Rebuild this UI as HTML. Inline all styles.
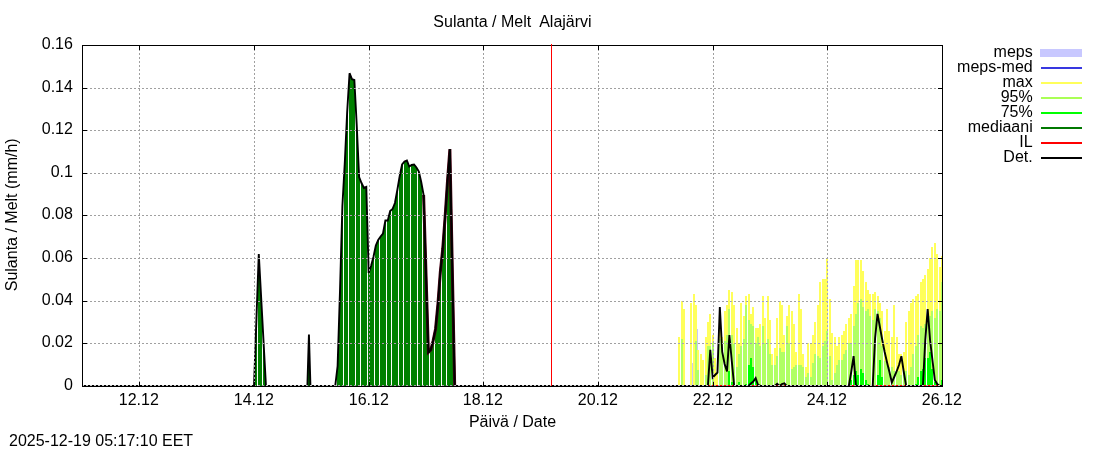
<!DOCTYPE html>
<html lang="fi"><head><meta charset="utf-8"><title>Sulanta / Melt Alajärvi</title>
<style>html,body{margin:0;padding:0;background:#fff;overflow:hidden}svg{display:block}text{font-family:"Liberation Sans",Arial,sans-serif;font-size:16px;fill:#000}</style>
</head><body>
<svg width="1100" height="450" viewBox="0 0 1100 450">
<rect width="1100" height="450" fill="#fff"/>
<g shape-rendering="crispEdges">
<rect x="254" y="372" width="1" height="14" fill="#008000"/>
<rect x="255" y="345" width="1" height="41" fill="#008000"/>
<rect x="256" y="317" width="1" height="69" fill="#008000"/>
<rect x="258" y="262" width="1" height="124" fill="#008000"/>
<rect x="259" y="267" width="1" height="119" fill="#008000"/>
<rect x="260" y="286" width="1" height="100" fill="#008000"/>
<rect x="261" y="304" width="1" height="82" fill="#008000"/>
<rect x="263" y="341" width="1" height="45" fill="#008000"/>
<rect x="264" y="359" width="1" height="27" fill="#008000"/>
<rect x="265" y="378" width="1" height="8" fill="#008000"/>
<rect x="307" y="382" width="1" height="4" fill="#008000"/>
<rect x="308" y="349" width="1" height="37" fill="#008000"/>
<rect x="309" y="354" width="1" height="32" fill="#008000"/>
<rect x="335" y="384" width="1" height="2" fill="#008000"/>
<rect x="337" y="367" width="1" height="19" fill="#008000"/>
<rect x="338" y="338" width="1" height="48" fill="#008000"/>
<rect x="339" y="307" width="1" height="79" fill="#008000"/>
<rect x="340" y="273" width="1" height="113" fill="#008000"/>
<rect x="341" y="238" width="1" height="148" fill="#008000"/>
<rect x="342" y="204" width="1" height="182" fill="#008000"/>
<rect x="344" y="168" width="1" height="218" fill="#008000"/>
<rect x="345" y="148" width="1" height="238" fill="#008000"/>
<rect x="346" y="126" width="1" height="260" fill="#008000"/>
<rect x="347" y="107" width="1" height="279" fill="#008000"/>
<rect x="349" y="74" width="1" height="312" fill="#008000"/>
<rect x="350" y="76" width="1" height="310" fill="#008000"/>
<rect x="351" y="78" width="1" height="308" fill="#008000"/>
<rect x="352" y="79" width="1" height="307" fill="#008000"/>
<rect x="353" y="80" width="1" height="306" fill="#008000"/>
<rect x="354" y="83" width="1" height="303" fill="#008000"/>
<rect x="356" y="121" width="1" height="265" fill="#008000"/>
<rect x="357" y="142" width="1" height="244" fill="#008000"/>
<rect x="358" y="164" width="1" height="222" fill="#008000"/>
<rect x="359" y="178" width="1" height="208" fill="#008000"/>
<rect x="361" y="183" width="1" height="203" fill="#008000"/>
<rect x="362" y="185" width="1" height="201" fill="#008000"/>
<rect x="363" y="187" width="1" height="199" fill="#008000"/>
<rect x="364" y="188" width="1" height="198" fill="#008000"/>
<rect x="365" y="187" width="1" height="199" fill="#008000"/>
<rect x="366" y="195" width="1" height="191" fill="#008000"/>
<rect x="368" y="267" width="1" height="119" fill="#008000"/>
<rect x="369" y="271" width="1" height="115" fill="#008000"/>
<rect x="370" y="268" width="1" height="118" fill="#008000"/>
<rect x="371" y="264" width="1" height="122" fill="#008000"/>
<rect x="372" y="261" width="1" height="125" fill="#008000"/>
<rect x="373" y="257" width="1" height="129" fill="#008000"/>
<rect x="375" y="247" width="1" height="139" fill="#008000"/>
<rect x="376" y="244" width="1" height="142" fill="#008000"/>
<rect x="377" y="242" width="1" height="144" fill="#008000"/>
<rect x="378" y="240" width="1" height="146" fill="#008000"/>
<rect x="380" y="237" width="1" height="149" fill="#008000"/>
<rect x="381" y="235" width="1" height="151" fill="#008000"/>
<rect x="382" y="234" width="1" height="152" fill="#008000"/>
<rect x="383" y="231" width="1" height="155" fill="#008000"/>
<rect x="384" y="225" width="1" height="161" fill="#008000"/>
<rect x="385" y="220" width="1" height="166" fill="#008000"/>
<rect x="387" y="220" width="1" height="166" fill="#008000"/>
<rect x="388" y="218" width="1" height="168" fill="#008000"/>
<rect x="389" y="214" width="1" height="172" fill="#008000"/>
<rect x="390" y="211" width="1" height="175" fill="#008000"/>
<rect x="392" y="209" width="1" height="177" fill="#008000"/>
<rect x="393" y="207" width="1" height="179" fill="#008000"/>
<rect x="394" y="204" width="1" height="182" fill="#008000"/>
<rect x="395" y="200" width="1" height="186" fill="#008000"/>
<rect x="396" y="195" width="1" height="191" fill="#008000"/>
<rect x="397" y="189" width="1" height="197" fill="#008000"/>
<rect x="399" y="177" width="1" height="209" fill="#008000"/>
<rect x="400" y="172" width="1" height="214" fill="#008000"/>
<rect x="401" y="167" width="1" height="219" fill="#008000"/>
<rect x="402" y="164" width="1" height="222" fill="#008000"/>
<rect x="404" y="162" width="1" height="224" fill="#008000"/>
<rect x="405" y="161" width="2" height="225" fill="#008000"/>
<rect x="407" y="162" width="1" height="224" fill="#008000"/>
<rect x="408" y="165" width="1" height="221" fill="#008000"/>
<rect x="409" y="166" width="1" height="220" fill="#008000"/>
<rect x="411" y="165" width="4" height="221" fill="#008000"/>
<rect x="415" y="166" width="1" height="220" fill="#008000"/>
<rect x="416" y="168" width="1" height="218" fill="#008000"/>
<rect x="418" y="171" width="1" height="215" fill="#008000"/>
<rect x="419" y="174" width="1" height="212" fill="#008000"/>
<rect x="420" y="179" width="1" height="207" fill="#008000"/>
<rect x="421" y="184" width="1" height="202" fill="#008000"/>
<rect x="423" y="194" width="1" height="192" fill="#008000"/>
<rect x="424" y="224" width="1" height="162" fill="#008000"/>
<rect x="425" y="257" width="1" height="129" fill="#008000"/>
<rect x="426" y="290" width="1" height="96" fill="#008000"/>
<rect x="427" y="323" width="1" height="63" fill="#008000"/>
<rect x="428" y="352" width="1" height="34" fill="#008000"/>
<rect x="430" y="350" width="1" height="36" fill="#008000"/>
<rect x="431" y="347" width="1" height="39" fill="#008000"/>
<rect x="432" y="343" width="1" height="43" fill="#008000"/>
<rect x="433" y="339" width="1" height="47" fill="#008000"/>
<rect x="435" y="329" width="1" height="57" fill="#008000"/>
<rect x="436" y="319" width="1" height="67" fill="#008000"/>
<rect x="437" y="309" width="1" height="77" fill="#008000"/>
<rect x="438" y="297" width="1" height="89" fill="#008000"/>
<rect x="439" y="283" width="1" height="103" fill="#008000"/>
<rect x="440" y="270" width="1" height="116" fill="#008000"/>
<rect x="442" y="251" width="1" height="135" fill="#008000"/>
<rect x="443" y="239" width="1" height="147" fill="#008000"/>
<rect x="444" y="225" width="1" height="161" fill="#008000"/>
<rect x="445" y="211" width="1" height="175" fill="#008000"/>
<rect x="447" y="181" width="1" height="205" fill="#008000"/>
<rect x="448" y="168" width="1" height="218" fill="#008000"/>
<rect x="449" y="154" width="1" height="232" fill="#008000"/>
<rect x="450" y="179" width="1" height="207" fill="#008000"/>
<rect x="451" y="229" width="1" height="157" fill="#008000"/>
<rect x="452" y="279" width="1" height="107" fill="#008000"/>
<rect x="454" y="378" width="1" height="8" fill="#008000"/>
<rect x="678" y="337" width="2" height="49" fill="#ffff5a"/>
<rect x="681" y="301" width="2" height="38" fill="#ffff5a"/>
<rect x="681" y="339" width="2" height="47" fill="#b0ff64"/>
<rect x="683" y="309" width="2" height="77" fill="#ffff5a"/>
<rect x="690" y="303" width="2" height="83" fill="#ffff5a"/>
<rect x="692" y="363" width="1" height="23" fill="#c8c8fa"/>
<rect x="693" y="294" width="2" height="92" fill="#ffff5a"/>
<rect x="695" y="305" width="2" height="36" fill="#ffff5a"/>
<rect x="695" y="341" width="2" height="45" fill="#b0ff64"/>
<rect x="697" y="329" width="1" height="21" fill="#c8c8fa"/>
<rect x="697" y="350" width="2" height="20" fill="#ffff5a"/>
<rect x="697" y="370" width="2" height="16" fill="#b0ff64"/>
<rect x="700" y="354" width="2" height="32" fill="#ffff5a"/>
<rect x="702" y="360" width="2" height="26" fill="#ffff5a"/>
<rect x="705" y="337" width="2" height="38" fill="#ffff5a"/>
<rect x="705" y="375" width="2" height="11" fill="#b0ff64"/>
<rect x="707" y="322" width="2" height="24" fill="#ffff5a"/>
<rect x="707" y="346" width="4" height="40" fill="#b0ff64"/>
<rect x="709" y="314" width="2" height="32" fill="#ffff5a"/>
<rect x="712" y="335" width="2" height="8" fill="#ffff5a"/>
<rect x="712" y="343" width="2" height="43" fill="#b0ff64"/>
<rect x="714" y="358" width="2" height="28" fill="#ffff5a"/>
<rect x="716" y="372" width="2" height="14" fill="#ffff5a"/>
<rect x="719" y="330" width="2" height="9" fill="#ffff5a"/>
<rect x="719" y="339" width="2" height="47" fill="#b0ff64"/>
<rect x="721" y="337" width="2" height="11" fill="#ffff5a"/>
<rect x="721" y="348" width="2" height="38" fill="#b0ff64"/>
<rect x="724" y="311" width="2" height="30" fill="#ffff5a"/>
<rect x="724" y="341" width="2" height="45" fill="#b0ff64"/>
<rect x="726" y="305" width="2" height="30" fill="#ffff5a"/>
<rect x="726" y="335" width="2" height="51" fill="#b0ff64"/>
<rect x="728" y="290" width="2" height="19" fill="#ffff5a"/>
<rect x="728" y="309" width="2" height="62" fill="#b0ff64"/>
<rect x="728" y="371" width="2" height="15" fill="#00ff00"/>
<rect x="731" y="292" width="2" height="43" fill="#ffff5a"/>
<rect x="731" y="335" width="2" height="47" fill="#b0ff64"/>
<rect x="731" y="382" width="2" height="4" fill="#00ff00"/>
<rect x="733" y="305" width="2" height="39" fill="#ffff5a"/>
<rect x="733" y="344" width="2" height="42" fill="#b0ff64"/>
<rect x="736" y="328" width="2" height="39" fill="#ffff5a"/>
<rect x="736" y="367" width="2" height="19" fill="#b0ff64"/>
<rect x="738" y="344" width="2" height="10" fill="#ffff5a"/>
<rect x="738" y="354" width="2" height="28" fill="#b0ff64"/>
<rect x="738" y="382" width="2" height="4" fill="#00ff00"/>
<rect x="740" y="303" width="2" height="43" fill="#ffff5a"/>
<rect x="740" y="346" width="2" height="40" fill="#b0ff64"/>
<rect x="743" y="316" width="2" height="23" fill="#ffff5a"/>
<rect x="743" y="339" width="2" height="47" fill="#b0ff64"/>
<rect x="745" y="296" width="2" height="9" fill="#ffff5a"/>
<rect x="745" y="305" width="2" height="79" fill="#b0ff64"/>
<rect x="745" y="384" width="2" height="2" fill="#00ff00"/>
<rect x="748" y="294" width="2" height="26" fill="#ffff5a"/>
<rect x="748" y="320" width="2" height="45" fill="#b0ff64"/>
<rect x="748" y="365" width="2" height="21" fill="#00ff00"/>
<rect x="750" y="314" width="2" height="10" fill="#ffff5a"/>
<rect x="750" y="324" width="2" height="34" fill="#b0ff64"/>
<rect x="750" y="358" width="2" height="28" fill="#00ff00"/>
<rect x="752" y="307" width="2" height="19" fill="#ffff5a"/>
<rect x="752" y="326" width="2" height="41" fill="#b0ff64"/>
<rect x="752" y="367" width="2" height="19" fill="#00ff00"/>
<rect x="755" y="328" width="2" height="15" fill="#ffff5a"/>
<rect x="755" y="343" width="2" height="37" fill="#b0ff64"/>
<rect x="755" y="380" width="2" height="6" fill="#00ff00"/>
<rect x="757" y="328" width="2" height="9" fill="#ffff5a"/>
<rect x="757" y="337" width="2" height="49" fill="#b0ff64"/>
<rect x="759" y="324" width="2" height="22" fill="#ffff5a"/>
<rect x="759" y="346" width="2" height="40" fill="#b0ff64"/>
<rect x="762" y="296" width="2" height="30" fill="#ffff5a"/>
<rect x="762" y="326" width="2" height="60" fill="#b0ff64"/>
<rect x="764" y="318" width="2" height="25" fill="#ffff5a"/>
<rect x="764" y="343" width="2" height="43" fill="#b0ff64"/>
<rect x="767" y="296" width="2" height="43" fill="#ffff5a"/>
<rect x="767" y="339" width="2" height="47" fill="#b0ff64"/>
<rect x="769" y="320" width="2" height="34" fill="#ffff5a"/>
<rect x="769" y="354" width="2" height="32" fill="#b0ff64"/>
<rect x="771" y="354" width="2" height="11" fill="#ffff5a"/>
<rect x="771" y="365" width="2" height="21" fill="#b0ff64"/>
<rect x="774" y="348" width="2" height="17" fill="#ffff5a"/>
<rect x="774" y="365" width="2" height="21" fill="#b0ff64"/>
<rect x="776" y="318" width="2" height="38" fill="#ffff5a"/>
<rect x="776" y="356" width="2" height="30" fill="#b0ff64"/>
<rect x="779" y="301" width="2" height="47" fill="#ffff5a"/>
<rect x="779" y="348" width="2" height="38" fill="#b0ff64"/>
<rect x="781" y="305" width="2" height="47" fill="#ffff5a"/>
<rect x="781" y="352" width="4" height="34" fill="#b0ff64"/>
<rect x="783" y="335" width="2" height="17" fill="#ffff5a"/>
<rect x="786" y="316" width="2" height="10" fill="#ffff5a"/>
<rect x="786" y="326" width="2" height="60" fill="#b0ff64"/>
<rect x="788" y="305" width="2" height="38" fill="#ffff5a"/>
<rect x="788" y="343" width="2" height="43" fill="#b0ff64"/>
<rect x="791" y="311" width="2" height="58" fill="#ffff5a"/>
<rect x="791" y="369" width="2" height="17" fill="#b0ff64"/>
<rect x="793" y="324" width="2" height="43" fill="#ffff5a"/>
<rect x="793" y="367" width="2" height="19" fill="#b0ff64"/>
<rect x="795" y="352" width="2" height="13" fill="#ffff5a"/>
<rect x="795" y="365" width="2" height="21" fill="#b0ff64"/>
<rect x="798" y="294" width="2" height="71" fill="#ffff5a"/>
<rect x="798" y="365" width="4" height="21" fill="#b0ff64"/>
<rect x="800" y="309" width="2" height="56" fill="#ffff5a"/>
<rect x="802" y="354" width="2" height="13" fill="#ffff5a"/>
<rect x="802" y="367" width="2" height="19" fill="#b0ff64"/>
<rect x="805" y="367" width="2" height="10" fill="#ffff5a"/>
<rect x="805" y="377" width="2" height="9" fill="#b0ff64"/>
<rect x="807" y="343" width="2" height="30" fill="#ffff5a"/>
<rect x="807" y="373" width="2" height="13" fill="#b0ff64"/>
<rect x="810" y="344" width="2" height="33" fill="#ffff5a"/>
<rect x="810" y="377" width="2" height="9" fill="#b0ff64"/>
<rect x="812" y="335" width="2" height="28" fill="#ffff5a"/>
<rect x="812" y="363" width="2" height="23" fill="#b0ff64"/>
<rect x="814" y="322" width="2" height="32" fill="#ffff5a"/>
<rect x="814" y="354" width="2" height="32" fill="#b0ff64"/>
<rect x="817" y="305" width="2" height="51" fill="#ffff5a"/>
<rect x="817" y="356" width="2" height="30" fill="#b0ff64"/>
<rect x="819" y="282" width="2" height="76" fill="#ffff5a"/>
<rect x="819" y="358" width="2" height="28" fill="#b0ff64"/>
<rect x="822" y="279" width="2" height="67" fill="#ffff5a"/>
<rect x="822" y="346" width="2" height="40" fill="#b0ff64"/>
<rect x="824" y="279" width="2" height="62" fill="#ffff5a"/>
<rect x="824" y="341" width="2" height="45" fill="#b0ff64"/>
<rect x="826" y="259" width="2" height="72" fill="#ffff5a"/>
<rect x="826" y="331" width="2" height="55" fill="#b0ff64"/>
<rect x="829" y="299" width="2" height="57" fill="#ffff5a"/>
<rect x="829" y="356" width="2" height="30" fill="#b0ff64"/>
<rect x="831" y="333" width="2" height="47" fill="#ffff5a"/>
<rect x="831" y="380" width="2" height="6" fill="#b0ff64"/>
<rect x="834" y="337" width="2" height="36" fill="#ffff5a"/>
<rect x="834" y="373" width="2" height="13" fill="#b0ff64"/>
<rect x="836" y="346" width="2" height="19" fill="#ffff5a"/>
<rect x="836" y="365" width="2" height="21" fill="#b0ff64"/>
<rect x="838" y="337" width="2" height="23" fill="#ffff5a"/>
<rect x="838" y="360" width="2" height="26" fill="#b0ff64"/>
<rect x="841" y="335" width="2" height="25" fill="#ffff5a"/>
<rect x="841" y="360" width="2" height="26" fill="#b0ff64"/>
<rect x="843" y="331" width="2" height="23" fill="#ffff5a"/>
<rect x="843" y="354" width="2" height="32" fill="#b0ff64"/>
<rect x="845" y="324" width="2" height="26" fill="#ffff5a"/>
<rect x="845" y="350" width="2" height="36" fill="#b0ff64"/>
<rect x="848" y="318" width="2" height="25" fill="#ffff5a"/>
<rect x="848" y="343" width="2" height="43" fill="#b0ff64"/>
<rect x="850" y="314" width="2" height="29" fill="#ffff5a"/>
<rect x="850" y="343" width="2" height="37" fill="#b0ff64"/>
<rect x="850" y="380" width="2" height="6" fill="#00ff00"/>
<rect x="853" y="286" width="2" height="40" fill="#ffff5a"/>
<rect x="853" y="326" width="2" height="49" fill="#b0ff64"/>
<rect x="853" y="375" width="2" height="11" fill="#00ff00"/>
<rect x="855" y="260" width="2" height="54" fill="#ffff5a"/>
<rect x="855" y="314" width="2" height="57" fill="#b0ff64"/>
<rect x="855" y="371" width="2" height="15" fill="#00ff00"/>
<rect x="857" y="260" width="2" height="43" fill="#ffff5a"/>
<rect x="857" y="303" width="2" height="72" fill="#b0ff64"/>
<rect x="857" y="375" width="2" height="11" fill="#00ff00"/>
<rect x="860" y="260" width="2" height="39" fill="#ffff5a"/>
<rect x="860" y="299" width="2" height="70" fill="#b0ff64"/>
<rect x="860" y="369" width="2" height="17" fill="#00ff00"/>
<rect x="862" y="271" width="2" height="36" fill="#ffff5a"/>
<rect x="862" y="307" width="2" height="66" fill="#b0ff64"/>
<rect x="862" y="373" width="2" height="13" fill="#00ff00"/>
<rect x="865" y="282" width="2" height="29" fill="#ffff5a"/>
<rect x="865" y="311" width="2" height="69" fill="#b0ff64"/>
<rect x="865" y="380" width="2" height="6" fill="#00ff00"/>
<rect x="867" y="290" width="2" height="19" fill="#ffff5a"/>
<rect x="867" y="309" width="2" height="75" fill="#b0ff64"/>
<rect x="867" y="384" width="2" height="2" fill="#00ff00"/>
<rect x="869" y="294" width="2" height="22" fill="#ffff5a"/>
<rect x="869" y="316" width="2" height="70" fill="#b0ff64"/>
<rect x="872" y="294" width="2" height="26" fill="#ffff5a"/>
<rect x="872" y="320" width="2" height="66" fill="#b0ff64"/>
<rect x="874" y="292" width="2" height="17" fill="#ffff5a"/>
<rect x="874" y="309" width="2" height="77" fill="#b0ff64"/>
<rect x="877" y="296" width="2" height="15" fill="#ffff5a"/>
<rect x="877" y="311" width="2" height="64" fill="#b0ff64"/>
<rect x="877" y="375" width="2" height="11" fill="#00ff00"/>
<rect x="879" y="303" width="2" height="15" fill="#ffff5a"/>
<rect x="879" y="318" width="2" height="42" fill="#b0ff64"/>
<rect x="879" y="360" width="2" height="26" fill="#00ff00"/>
<rect x="881" y="311" width="2" height="35" fill="#ffff5a"/>
<rect x="881" y="346" width="2" height="31" fill="#b0ff64"/>
<rect x="881" y="377" width="2" height="9" fill="#00ff00"/>
<rect x="884" y="331" width="2" height="30" fill="#ffff5a"/>
<rect x="884" y="361" width="2" height="25" fill="#b0ff64"/>
<rect x="886" y="309" width="2" height="55" fill="#ffff5a"/>
<rect x="886" y="364" width="2" height="22" fill="#b0ff64"/>
<rect x="888" y="331" width="2" height="36" fill="#ffff5a"/>
<rect x="888" y="367" width="2" height="19" fill="#b0ff64"/>
<rect x="891" y="337" width="2" height="30" fill="#ffff5a"/>
<rect x="891" y="367" width="2" height="19" fill="#b0ff64"/>
<rect x="893" y="305" width="2" height="66" fill="#ffff5a"/>
<rect x="893" y="371" width="2" height="15" fill="#b0ff64"/>
<rect x="896" y="337" width="2" height="35" fill="#ffff5a"/>
<rect x="896" y="372" width="2" height="14" fill="#b0ff64"/>
<rect x="898" y="354" width="2" height="17" fill="#ffff5a"/>
<rect x="898" y="371" width="2" height="15" fill="#b0ff64"/>
<rect x="900" y="354" width="2" height="21" fill="#ffff5a"/>
<rect x="900" y="375" width="2" height="11" fill="#b0ff64"/>
<rect x="903" y="352" width="2" height="19" fill="#ffff5a"/>
<rect x="903" y="371" width="4" height="15" fill="#b0ff64"/>
<rect x="905" y="322" width="2" height="49" fill="#ffff5a"/>
<rect x="908" y="311" width="2" height="64" fill="#ffff5a"/>
<rect x="908" y="375" width="2" height="11" fill="#b0ff64"/>
<rect x="910" y="303" width="2" height="64" fill="#ffff5a"/>
<rect x="910" y="367" width="2" height="19" fill="#b0ff64"/>
<rect x="912" y="299" width="2" height="55" fill="#ffff5a"/>
<rect x="912" y="354" width="2" height="32" fill="#b0ff64"/>
<rect x="915" y="296" width="2" height="50" fill="#ffff5a"/>
<rect x="915" y="346" width="2" height="38" fill="#b0ff64"/>
<rect x="915" y="384" width="2" height="2" fill="#00ff00"/>
<rect x="917" y="294" width="2" height="41" fill="#ffff5a"/>
<rect x="917" y="335" width="2" height="42" fill="#b0ff64"/>
<rect x="917" y="377" width="2" height="9" fill="#00ff00"/>
<rect x="920" y="282" width="2" height="44" fill="#ffff5a"/>
<rect x="920" y="326" width="2" height="45" fill="#b0ff64"/>
<rect x="920" y="371" width="2" height="15" fill="#00ff00"/>
<rect x="922" y="279" width="2" height="49" fill="#ffff5a"/>
<rect x="922" y="328" width="2" height="41" fill="#b0ff64"/>
<rect x="922" y="369" width="2" height="17" fill="#00ff00"/>
<rect x="924" y="275" width="2" height="49" fill="#ffff5a"/>
<rect x="924" y="324" width="2" height="34" fill="#b0ff64"/>
<rect x="924" y="358" width="2" height="28" fill="#00ff00"/>
<rect x="927" y="269" width="2" height="51" fill="#ffff5a"/>
<rect x="927" y="320" width="2" height="38" fill="#b0ff64"/>
<rect x="927" y="358" width="2" height="28" fill="#00ff00"/>
<rect x="929" y="258" width="2" height="58" fill="#ffff5a"/>
<rect x="929" y="316" width="2" height="36" fill="#b0ff64"/>
<rect x="929" y="352" width="2" height="34" fill="#00ff00"/>
<rect x="931" y="247" width="2" height="64" fill="#ffff5a"/>
<rect x="931" y="311" width="2" height="58" fill="#b0ff64"/>
<rect x="931" y="369" width="2" height="17" fill="#00ff00"/>
<rect x="934" y="243" width="2" height="75" fill="#ffff5a"/>
<rect x="934" y="318" width="2" height="64" fill="#b0ff64"/>
<rect x="934" y="382" width="2" height="4" fill="#00ff00"/>
<rect x="936" y="254" width="2" height="55" fill="#ffff5a"/>
<rect x="936" y="309" width="2" height="75" fill="#b0ff64"/>
<rect x="936" y="384" width="2" height="2" fill="#00ff00"/>
<rect x="939" y="267" width="2" height="44" fill="#ffff5a"/>
<rect x="939" y="311" width="2" height="75" fill="#b0ff64"/>
<rect x="941" y="256" width="1" height="26" fill="#ffff5a"/>
<rect x="941" y="282" width="1" height="98" fill="#b0ff64"/>
<rect x="941" y="380" width="1" height="6" fill="#00ff00"/>
</g>
<path d="M678 385.5H942" stroke="#ff0000" stroke-width="1" fill="none" shape-rendering="crispEdges"/>
<path d="M423.61 195.00 L428.39 352.30 L430.78 350.00 L433.17 340.50 L435.56 329.00 L437.94 304.00 L440.33 272.00 L442.72 249.00 L445.11 217.00 L447.50 181.00 L449.89 149.00 L454.67 386.00" stroke="#4a0014" stroke-width="3" fill="none" stroke-linejoin="miter"/>
<path d="M82.00 386.00 L254.00 386.00 L258.78 254.00 L265.94 386.00 L307.39 386.00 L308.94 334.50 L310.43 386.00 L335.22 386.00 L337.61 366.00 L340.00 291.00 L342.39 206.00 L344.78 163.00 L347.17 112.00 L349.56 73.20 L351.94 79.20 L354.33 80.00 L356.72 125.00 L359.11 177.00 L361.50 183.00 L363.89 188.00 L366.28 187.00 L368.67 273.00 L371.06 266.00 L373.44 257.00 L375.83 245.50 L378.22 240.00 L380.61 236.50 L383.00 233.50 L385.39 220.50 L387.78 220.50 L390.17 211.00 L392.56 209.00 L394.94 203.00 L397.33 190.00 L399.72 176.00 L402.11 164.50 L404.50 161.50 L406.89 160.50 L409.28 166.50 L411.67 165.00 L414.06 164.50 L416.44 167.50 L418.83 171.50 L421.22 182.00 L423.61 195.00 L428.39 352.30 L430.78 350.00 L433.17 340.50 L435.56 329.00 L437.94 304.00 L440.33 272.00 L442.72 249.00 L445.11 217.00 L447.50 181.00 L449.89 149.00 L454.67 386.00 L454.67 386.00 L707.89 386.00 L707.89 386.00 L710.28 349.80 L712.67 377.50 L715.06 375.00 L717.44 372.50 L719.83 307.00 L722.22 352.00 L724.61 364.00 L727.00 371.50 L729.39 335.00 L731.78 361.00 L734.17 386.00 L748.50 386.00 L750.89 383.50 L753.28 381.50 L755.67 378.00 L758.06 385.00 L760.44 386.00 L774.78 386.00 L777.17 383.70 L779.56 386.00 L781.94 384.00 L784.33 383.40 L786.72 386.00 L848.83 386.00 L851.22 372.00 L853.61 356.20 L856.00 386.00 L872.72 386.00 L875.11 338.00 L877.50 313.80 L879.89 327.00 L882.28 340.00 L884.67 352.00 L887.06 362.50 L889.44 372.00 L891.83 382.50 L894.22 377.00 L896.61 371.50 L899.00 365.00 L901.39 356.20 L903.78 372.00 L906.17 386.00 L922.89 386.00 L925.28 340.00 L927.67 309.00 L930.06 340.00 L932.44 360.00 L934.83 380.00 L937.22 384.00 L939.61 386.00 L942.00 386.00" stroke="#000" stroke-width="1.9" fill="none" stroke-linejoin="miter" stroke-miterlimit="4"/>
<g shape-rendering="crispEdges">
<path d="M139 46h1v1h-1zM254 46h1v1h-1zM369 46h1v1h-1zM483 46h1v1h-1zM598 46h1v1h-1zM713 46h1v1h-1zM827 46h1v1h-1zM139 49h1v1h-1zM254 49h1v1h-1zM369 49h1v1h-1zM483 49h1v1h-1zM598 49h1v1h-1zM713 49h1v1h-1zM827 49h1v1h-1zM139 50h1v1h-1zM254 50h1v1h-1zM369 50h1v1h-1zM483 50h1v1h-1zM598 50h1v1h-1zM713 50h1v1h-1zM827 50h1v1h-1zM139 53h1v1h-1zM254 53h1v1h-1zM369 53h1v1h-1zM483 53h1v1h-1zM598 53h1v1h-1zM713 53h1v1h-1zM827 53h1v1h-1zM139 54h1v1h-1zM254 54h1v1h-1zM369 54h1v1h-1zM483 54h1v1h-1zM598 54h1v1h-1zM713 54h1v1h-1zM827 54h1v1h-1zM139 57h1v1h-1zM254 57h1v1h-1zM369 57h1v1h-1zM483 57h1v1h-1zM598 57h1v1h-1zM713 57h1v1h-1zM827 57h1v1h-1zM139 58h1v1h-1zM254 58h1v1h-1zM369 58h1v1h-1zM483 58h1v1h-1zM598 58h1v1h-1zM713 58h1v1h-1zM827 58h1v1h-1zM139 61h1v1h-1zM254 61h1v1h-1zM369 61h1v1h-1zM483 61h1v1h-1zM598 61h1v1h-1zM713 61h1v1h-1zM827 61h1v1h-1zM139 62h1v1h-1zM254 62h1v1h-1zM369 62h1v1h-1zM483 62h1v1h-1zM598 62h1v1h-1zM713 62h1v1h-1zM827 62h1v1h-1zM139 65h1v1h-1zM254 65h1v1h-1zM369 65h1v1h-1zM483 65h1v1h-1zM598 65h1v1h-1zM713 65h1v1h-1zM827 65h1v1h-1zM139 66h1v1h-1zM254 66h1v1h-1zM369 66h1v1h-1zM483 66h1v1h-1zM598 66h1v1h-1zM713 66h1v1h-1zM827 66h1v1h-1zM139 69h1v1h-1zM254 69h1v1h-1zM369 69h1v1h-1zM483 69h1v1h-1zM598 69h1v1h-1zM713 69h1v1h-1zM827 69h1v1h-1zM139 70h1v1h-1zM254 70h1v1h-1zM369 70h1v1h-1zM483 70h1v1h-1zM598 70h1v1h-1zM713 70h1v1h-1zM827 70h1v1h-1zM139 73h1v1h-1zM254 73h1v1h-1zM369 73h1v1h-1zM483 73h1v1h-1zM598 73h1v1h-1zM713 73h1v1h-1zM827 73h1v1h-1zM139 74h1v1h-1zM254 74h1v1h-1zM369 74h1v1h-1zM483 74h1v1h-1zM598 74h1v1h-1zM713 74h1v1h-1zM827 74h1v1h-1zM139 77h1v1h-1zM254 77h1v1h-1zM369 77h1v1h-1zM483 77h1v1h-1zM598 77h1v1h-1zM713 77h1v1h-1zM827 77h1v1h-1zM139 78h1v1h-1zM254 78h1v1h-1zM369 78h1v1h-1zM483 78h1v1h-1zM598 78h1v1h-1zM713 78h1v1h-1zM827 78h1v1h-1zM139 81h1v1h-1zM254 81h1v1h-1zM369 81h1v1h-1zM483 81h1v1h-1zM598 81h1v1h-1zM713 81h1v1h-1zM827 81h1v1h-1zM139 82h1v1h-1zM254 82h1v1h-1zM369 82h1v1h-1zM483 82h1v1h-1zM598 82h1v1h-1zM713 82h1v1h-1zM827 82h1v1h-1zM139 85h1v1h-1zM254 85h1v1h-1zM369 85h1v1h-1zM483 85h1v1h-1zM598 85h1v1h-1zM713 85h1v1h-1zM827 85h1v1h-1zM139 86h1v1h-1zM254 86h1v1h-1zM369 86h1v1h-1zM483 86h1v1h-1zM598 86h1v1h-1zM713 86h1v1h-1zM827 86h1v1h-1zM83 88h1v1h-1zM86 88h2v1h-2zM90 88h2v1h-2zM94 88h2v1h-2zM98 88h2v1h-2zM102 88h2v1h-2zM106 88h2v1h-2zM110 88h2v1h-2zM114 88h2v1h-2zM118 88h2v1h-2zM122 88h2v1h-2zM126 88h2v1h-2zM130 88h2v1h-2zM134 88h2v1h-2zM138 88h2v1h-2zM142 88h2v1h-2zM146 88h2v1h-2zM150 88h2v1h-2zM154 88h2v1h-2zM158 88h2v1h-2zM162 88h2v1h-2zM166 88h2v1h-2zM170 88h2v1h-2zM174 88h2v1h-2zM178 88h2v1h-2zM182 88h2v1h-2zM186 88h2v1h-2zM190 88h2v1h-2zM194 88h2v1h-2zM198 88h2v1h-2zM202 88h2v1h-2zM206 88h2v1h-2zM210 88h2v1h-2zM214 88h2v1h-2zM218 88h2v1h-2zM222 88h2v1h-2zM226 88h2v1h-2zM230 88h2v1h-2zM234 88h2v1h-2zM238 88h2v1h-2zM242 88h2v1h-2zM246 88h2v1h-2zM250 88h2v1h-2zM254 88h2v1h-2zM258 88h2v1h-2zM262 88h2v1h-2zM266 88h2v1h-2zM270 88h2v1h-2zM274 88h2v1h-2zM278 88h2v1h-2zM282 88h2v1h-2zM286 88h2v1h-2zM290 88h2v1h-2zM294 88h2v1h-2zM298 88h2v1h-2zM302 88h2v1h-2zM306 88h2v1h-2zM310 88h2v1h-2zM314 88h2v1h-2zM318 88h2v1h-2zM322 88h2v1h-2zM326 88h2v1h-2zM330 88h2v1h-2zM334 88h2v1h-2zM338 88h2v1h-2zM342 88h2v1h-2zM346 88h2v1h-2zM355 88h1v1h-1zM358 88h2v1h-2zM362 88h2v1h-2zM366 88h2v1h-2zM370 88h2v1h-2zM374 88h2v1h-2zM378 88h2v1h-2zM382 88h2v1h-2zM386 88h2v1h-2zM390 88h2v1h-2zM394 88h2v1h-2zM398 88h2v1h-2zM402 88h2v1h-2zM406 88h2v1h-2zM410 88h2v1h-2zM414 88h2v1h-2zM418 88h2v1h-2zM422 88h2v1h-2zM426 88h2v1h-2zM430 88h2v1h-2zM434 88h2v1h-2zM438 88h2v1h-2zM442 88h2v1h-2zM446 88h2v1h-2zM450 88h2v1h-2zM454 88h2v1h-2zM458 88h2v1h-2zM462 88h2v1h-2zM466 88h2v1h-2zM470 88h2v1h-2zM474 88h2v1h-2zM478 88h2v1h-2zM482 88h2v1h-2zM486 88h2v1h-2zM490 88h2v1h-2zM494 88h2v1h-2zM498 88h2v1h-2zM502 88h2v1h-2zM506 88h2v1h-2zM510 88h2v1h-2zM514 88h2v1h-2zM518 88h2v1h-2zM522 88h2v1h-2zM526 88h2v1h-2zM530 88h2v1h-2zM534 88h2v1h-2zM538 88h2v1h-2zM542 88h2v1h-2zM546 88h2v1h-2zM550 88h2v1h-2zM554 88h2v1h-2zM558 88h2v1h-2zM562 88h2v1h-2zM566 88h2v1h-2zM570 88h2v1h-2zM574 88h2v1h-2zM578 88h2v1h-2zM582 88h2v1h-2zM586 88h2v1h-2zM590 88h2v1h-2zM594 88h2v1h-2zM598 88h2v1h-2zM602 88h2v1h-2zM606 88h2v1h-2zM610 88h2v1h-2zM614 88h2v1h-2zM618 88h2v1h-2zM622 88h2v1h-2zM626 88h2v1h-2zM630 88h2v1h-2zM634 88h2v1h-2zM638 88h2v1h-2zM642 88h2v1h-2zM646 88h2v1h-2zM650 88h2v1h-2zM654 88h2v1h-2zM658 88h2v1h-2zM662 88h2v1h-2zM666 88h2v1h-2zM670 88h2v1h-2zM674 88h2v1h-2zM678 88h2v1h-2zM682 88h2v1h-2zM686 88h2v1h-2zM690 88h2v1h-2zM694 88h2v1h-2zM698 88h2v1h-2zM702 88h2v1h-2zM706 88h2v1h-2zM710 88h2v1h-2zM714 88h2v1h-2zM718 88h2v1h-2zM722 88h2v1h-2zM726 88h2v1h-2zM730 88h2v1h-2zM734 88h2v1h-2zM738 88h2v1h-2zM742 88h2v1h-2zM746 88h2v1h-2zM750 88h2v1h-2zM754 88h2v1h-2zM758 88h2v1h-2zM762 88h2v1h-2zM766 88h2v1h-2zM770 88h2v1h-2zM774 88h2v1h-2zM778 88h2v1h-2zM782 88h2v1h-2zM786 88h2v1h-2zM790 88h2v1h-2zM794 88h2v1h-2zM798 88h2v1h-2zM802 88h2v1h-2zM806 88h2v1h-2zM810 88h2v1h-2zM814 88h2v1h-2zM818 88h2v1h-2zM822 88h2v1h-2zM826 88h2v1h-2zM830 88h2v1h-2zM834 88h2v1h-2zM838 88h2v1h-2zM842 88h2v1h-2zM846 88h2v1h-2zM850 88h2v1h-2zM854 88h2v1h-2zM858 88h2v1h-2zM862 88h2v1h-2zM866 88h2v1h-2zM870 88h2v1h-2zM874 88h2v1h-2zM878 88h2v1h-2zM882 88h2v1h-2zM886 88h2v1h-2zM890 88h2v1h-2zM894 88h2v1h-2zM898 88h2v1h-2zM902 88h2v1h-2zM906 88h2v1h-2zM910 88h2v1h-2zM914 88h2v1h-2zM918 88h2v1h-2zM922 88h2v1h-2zM926 88h2v1h-2zM930 88h2v1h-2zM934 88h2v1h-2zM938 88h2v1h-2zM139 89h1v1h-1zM254 89h1v1h-1zM369 89h1v1h-1zM483 89h1v1h-1zM598 89h1v1h-1zM713 89h1v1h-1zM827 89h1v1h-1zM139 90h1v1h-1zM254 90h1v1h-1zM369 90h1v1h-1zM483 90h1v1h-1zM598 90h1v1h-1zM713 90h1v1h-1zM827 90h1v1h-1zM139 93h1v1h-1zM254 93h1v1h-1zM369 93h1v1h-1zM483 93h1v1h-1zM598 93h1v1h-1zM713 93h1v1h-1zM827 93h1v1h-1zM139 94h1v1h-1zM254 94h1v1h-1zM369 94h1v1h-1zM483 94h1v1h-1zM598 94h1v1h-1zM713 94h1v1h-1zM827 94h1v1h-1zM139 97h1v1h-1zM254 97h1v1h-1zM369 97h1v1h-1zM483 97h1v1h-1zM598 97h1v1h-1zM713 97h1v1h-1zM827 97h1v1h-1zM139 98h1v1h-1zM254 98h1v1h-1zM369 98h1v1h-1zM483 98h1v1h-1zM598 98h1v1h-1zM713 98h1v1h-1zM827 98h1v1h-1zM139 101h1v1h-1zM254 101h1v1h-1zM369 101h1v1h-1zM483 101h1v1h-1zM598 101h1v1h-1zM713 101h1v1h-1zM827 101h1v1h-1zM139 102h1v1h-1zM254 102h1v1h-1zM369 102h1v1h-1zM483 102h1v1h-1zM598 102h1v1h-1zM713 102h1v1h-1zM827 102h1v1h-1zM139 105h1v1h-1zM254 105h1v1h-1zM369 105h1v1h-1zM483 105h1v1h-1zM598 105h1v1h-1zM713 105h1v1h-1zM827 105h1v1h-1zM139 106h1v1h-1zM254 106h1v1h-1zM369 106h1v1h-1zM483 106h1v1h-1zM598 106h1v1h-1zM713 106h1v1h-1zM827 106h1v1h-1zM139 109h1v1h-1zM254 109h1v1h-1zM369 109h1v1h-1zM483 109h1v1h-1zM598 109h1v1h-1zM713 109h1v1h-1zM827 109h1v1h-1zM139 110h1v1h-1zM254 110h1v1h-1zM369 110h1v1h-1zM483 110h1v1h-1zM598 110h1v1h-1zM713 110h1v1h-1zM827 110h1v1h-1zM139 113h1v1h-1zM254 113h1v1h-1zM369 113h1v1h-1zM483 113h1v1h-1zM598 113h1v1h-1zM713 113h1v1h-1zM827 113h1v1h-1zM139 114h1v1h-1zM254 114h1v1h-1zM369 114h1v1h-1zM483 114h1v1h-1zM598 114h1v1h-1zM713 114h1v1h-1zM827 114h1v1h-1zM139 117h1v1h-1zM254 117h1v1h-1zM369 117h1v1h-1zM483 117h1v1h-1zM598 117h1v1h-1zM713 117h1v1h-1zM827 117h1v1h-1zM139 118h1v1h-1zM254 118h1v1h-1zM369 118h1v1h-1zM483 118h1v1h-1zM598 118h1v1h-1zM713 118h1v1h-1zM827 118h1v1h-1zM139 121h1v1h-1zM254 121h1v1h-1zM369 121h1v1h-1zM483 121h1v1h-1zM598 121h1v1h-1zM713 121h1v1h-1zM827 121h1v1h-1zM139 122h1v1h-1zM254 122h1v1h-1zM369 122h1v1h-1zM483 122h1v1h-1zM598 122h1v1h-1zM713 122h1v1h-1zM827 122h1v1h-1zM139 125h1v1h-1zM254 125h1v1h-1zM369 125h1v1h-1zM483 125h1v1h-1zM598 125h1v1h-1zM713 125h1v1h-1zM827 125h1v1h-1zM139 126h1v1h-1zM254 126h1v1h-1zM369 126h1v1h-1zM483 126h1v1h-1zM598 126h1v1h-1zM713 126h1v1h-1zM827 126h1v1h-1zM139 129h1v1h-1zM254 129h1v1h-1zM369 129h1v1h-1zM483 129h1v1h-1zM598 129h1v1h-1zM713 129h1v1h-1zM827 129h1v1h-1zM83 130h1v1h-1zM86 130h2v1h-2zM90 130h2v1h-2zM94 130h2v1h-2zM98 130h2v1h-2zM102 130h2v1h-2zM106 130h2v1h-2zM110 130h2v1h-2zM114 130h2v1h-2zM118 130h2v1h-2zM122 130h2v1h-2zM126 130h2v1h-2zM130 130h2v1h-2zM134 130h2v1h-2zM138 130h2v1h-2zM139 130h1v1h-1zM142 130h2v1h-2zM146 130h2v1h-2zM150 130h2v1h-2zM154 130h2v1h-2zM158 130h2v1h-2zM162 130h2v1h-2zM166 130h2v1h-2zM170 130h2v1h-2zM174 130h2v1h-2zM178 130h2v1h-2zM182 130h2v1h-2zM186 130h2v1h-2zM190 130h2v1h-2zM194 130h2v1h-2zM198 130h2v1h-2zM202 130h2v1h-2zM206 130h2v1h-2zM210 130h2v1h-2zM214 130h2v1h-2zM218 130h2v1h-2zM222 130h2v1h-2zM226 130h2v1h-2zM230 130h2v1h-2zM234 130h2v1h-2zM238 130h2v1h-2zM242 130h2v1h-2zM246 130h2v1h-2zM250 130h2v1h-2zM254 130h1v1h-1zM254 130h2v1h-2zM258 130h2v1h-2zM262 130h2v1h-2zM266 130h2v1h-2zM270 130h2v1h-2zM274 130h2v1h-2zM278 130h2v1h-2zM282 130h2v1h-2zM286 130h2v1h-2zM290 130h2v1h-2zM294 130h2v1h-2zM298 130h2v1h-2zM302 130h2v1h-2zM306 130h2v1h-2zM310 130h2v1h-2zM314 130h2v1h-2zM318 130h2v1h-2zM322 130h2v1h-2zM326 130h2v1h-2zM330 130h2v1h-2zM334 130h2v1h-2zM338 130h2v1h-2zM342 130h2v1h-2zM355 130h1v1h-1zM358 130h2v1h-2zM362 130h2v1h-2zM366 130h2v1h-2zM369 130h3v1h-3zM374 130h2v1h-2zM378 130h2v1h-2zM382 130h2v1h-2zM386 130h2v1h-2zM390 130h2v1h-2zM394 130h2v1h-2zM398 130h2v1h-2zM402 130h2v1h-2zM406 130h2v1h-2zM410 130h2v1h-2zM414 130h2v1h-2zM418 130h2v1h-2zM422 130h2v1h-2zM426 130h2v1h-2zM430 130h2v1h-2zM434 130h2v1h-2zM438 130h2v1h-2zM442 130h2v1h-2zM446 130h2v1h-2zM450 130h2v1h-2zM454 130h2v1h-2zM458 130h2v1h-2zM462 130h2v1h-2zM466 130h2v1h-2zM470 130h2v1h-2zM474 130h2v1h-2zM478 130h2v1h-2zM482 130h2v1h-2zM483 130h1v1h-1zM486 130h2v1h-2zM490 130h2v1h-2zM494 130h2v1h-2zM498 130h2v1h-2zM502 130h2v1h-2zM506 130h2v1h-2zM510 130h2v1h-2zM514 130h2v1h-2zM518 130h2v1h-2zM522 130h2v1h-2zM526 130h2v1h-2zM530 130h2v1h-2zM534 130h2v1h-2zM538 130h2v1h-2zM542 130h2v1h-2zM546 130h2v1h-2zM550 130h2v1h-2zM554 130h2v1h-2zM558 130h2v1h-2zM562 130h2v1h-2zM566 130h2v1h-2zM570 130h2v1h-2zM574 130h2v1h-2zM578 130h2v1h-2zM582 130h2v1h-2zM586 130h2v1h-2zM590 130h2v1h-2zM594 130h2v1h-2zM598 130h1v1h-1zM598 130h2v1h-2zM602 130h2v1h-2zM606 130h2v1h-2zM610 130h2v1h-2zM614 130h2v1h-2zM618 130h2v1h-2zM622 130h2v1h-2zM626 130h2v1h-2zM630 130h2v1h-2zM634 130h2v1h-2zM638 130h2v1h-2zM642 130h2v1h-2zM646 130h2v1h-2zM650 130h2v1h-2zM654 130h2v1h-2zM658 130h2v1h-2zM662 130h2v1h-2zM666 130h2v1h-2zM670 130h2v1h-2zM674 130h2v1h-2zM678 130h2v1h-2zM682 130h2v1h-2zM686 130h2v1h-2zM690 130h2v1h-2zM694 130h2v1h-2zM698 130h2v1h-2zM702 130h2v1h-2zM706 130h2v1h-2zM710 130h2v1h-2zM713 130h3v1h-3zM718 130h2v1h-2zM722 130h2v1h-2zM726 130h2v1h-2zM730 130h2v1h-2zM734 130h2v1h-2zM738 130h2v1h-2zM742 130h2v1h-2zM746 130h2v1h-2zM750 130h2v1h-2zM754 130h2v1h-2zM758 130h2v1h-2zM762 130h2v1h-2zM766 130h2v1h-2zM770 130h2v1h-2zM774 130h2v1h-2zM778 130h2v1h-2zM782 130h2v1h-2zM786 130h2v1h-2zM790 130h2v1h-2zM794 130h2v1h-2zM798 130h2v1h-2zM802 130h2v1h-2zM806 130h2v1h-2zM810 130h2v1h-2zM814 130h2v1h-2zM818 130h2v1h-2zM822 130h2v1h-2zM826 130h2v1h-2zM827 130h1v1h-1zM830 130h2v1h-2zM834 130h2v1h-2zM838 130h2v1h-2zM842 130h2v1h-2zM846 130h2v1h-2zM850 130h2v1h-2zM854 130h2v1h-2zM858 130h2v1h-2zM862 130h2v1h-2zM866 130h2v1h-2zM870 130h2v1h-2zM874 130h2v1h-2zM878 130h2v1h-2zM882 130h2v1h-2zM886 130h2v1h-2zM890 130h2v1h-2zM894 130h2v1h-2zM898 130h2v1h-2zM902 130h2v1h-2zM906 130h2v1h-2zM910 130h2v1h-2zM914 130h2v1h-2zM918 130h2v1h-2zM922 130h2v1h-2zM926 130h2v1h-2zM930 130h2v1h-2zM934 130h2v1h-2zM938 130h2v1h-2zM139 133h1v1h-1zM254 133h1v1h-1zM369 133h1v1h-1zM483 133h1v1h-1zM598 133h1v1h-1zM713 133h1v1h-1zM827 133h1v1h-1zM139 134h1v1h-1zM254 134h1v1h-1zM369 134h1v1h-1zM483 134h1v1h-1zM598 134h1v1h-1zM713 134h1v1h-1zM827 134h1v1h-1zM139 137h1v1h-1zM254 137h1v1h-1zM369 137h1v1h-1zM483 137h1v1h-1zM598 137h1v1h-1zM713 137h1v1h-1zM827 137h1v1h-1zM139 138h1v1h-1zM254 138h1v1h-1zM369 138h1v1h-1zM483 138h1v1h-1zM598 138h1v1h-1zM713 138h1v1h-1zM827 138h1v1h-1zM139 141h1v1h-1zM254 141h1v1h-1zM369 141h1v1h-1zM483 141h1v1h-1zM598 141h1v1h-1zM713 141h1v1h-1zM827 141h1v1h-1zM139 142h1v1h-1zM254 142h1v1h-1zM369 142h1v1h-1zM483 142h1v1h-1zM598 142h1v1h-1zM713 142h1v1h-1zM827 142h1v1h-1zM139 145h1v1h-1zM254 145h1v1h-1zM369 145h1v1h-1zM483 145h1v1h-1zM598 145h1v1h-1zM713 145h1v1h-1zM827 145h1v1h-1zM139 146h1v1h-1zM254 146h1v1h-1zM369 146h1v1h-1zM483 146h1v1h-1zM598 146h1v1h-1zM713 146h1v1h-1zM827 146h1v1h-1zM139 149h1v1h-1zM254 149h1v1h-1zM369 149h1v1h-1zM483 149h1v1h-1zM598 149h1v1h-1zM713 149h1v1h-1zM827 149h1v1h-1zM139 150h1v1h-1zM254 150h1v1h-1zM369 150h1v1h-1zM483 150h1v1h-1zM598 150h1v1h-1zM713 150h1v1h-1zM827 150h1v1h-1zM139 153h1v1h-1zM254 153h1v1h-1zM369 153h1v1h-1zM483 153h1v1h-1zM598 153h1v1h-1zM713 153h1v1h-1zM827 153h1v1h-1zM139 154h1v1h-1zM254 154h1v1h-1zM369 154h1v1h-1zM483 154h1v1h-1zM598 154h1v1h-1zM713 154h1v1h-1zM827 154h1v1h-1zM139 157h1v1h-1zM254 157h1v1h-1zM369 157h1v1h-1zM483 157h1v1h-1zM598 157h1v1h-1zM713 157h1v1h-1zM827 157h1v1h-1zM139 158h1v1h-1zM254 158h1v1h-1zM369 158h1v1h-1zM483 158h1v1h-1zM598 158h1v1h-1zM713 158h1v1h-1zM827 158h1v1h-1zM139 161h1v1h-1zM254 161h1v1h-1zM369 161h1v1h-1zM483 161h1v1h-1zM598 161h1v1h-1zM713 161h1v1h-1zM827 161h1v1h-1zM139 162h1v1h-1zM254 162h1v1h-1zM369 162h1v1h-1zM483 162h1v1h-1zM598 162h1v1h-1zM713 162h1v1h-1zM827 162h1v1h-1zM139 165h1v1h-1zM254 165h1v1h-1zM369 165h1v1h-1zM483 165h1v1h-1zM598 165h1v1h-1zM713 165h1v1h-1zM827 165h1v1h-1zM139 166h1v1h-1zM254 166h1v1h-1zM369 166h1v1h-1zM483 166h1v1h-1zM598 166h1v1h-1zM713 166h1v1h-1zM827 166h1v1h-1zM139 169h1v1h-1zM254 169h1v1h-1zM369 169h1v1h-1zM483 169h1v1h-1zM598 169h1v1h-1zM713 169h1v1h-1zM827 169h1v1h-1zM139 170h1v1h-1zM254 170h1v1h-1zM369 170h1v1h-1zM483 170h1v1h-1zM598 170h1v1h-1zM713 170h1v1h-1zM827 170h1v1h-1zM83 173h1v1h-1zM86 173h2v1h-2zM90 173h2v1h-2zM94 173h2v1h-2zM98 173h2v1h-2zM102 173h2v1h-2zM106 173h2v1h-2zM110 173h2v1h-2zM114 173h2v1h-2zM118 173h2v1h-2zM122 173h2v1h-2zM126 173h2v1h-2zM130 173h2v1h-2zM134 173h2v1h-2zM138 173h2v1h-2zM139 173h1v1h-1zM142 173h2v1h-2zM146 173h2v1h-2zM150 173h2v1h-2zM154 173h2v1h-2zM158 173h2v1h-2zM162 173h2v1h-2zM166 173h2v1h-2zM170 173h2v1h-2zM174 173h2v1h-2zM178 173h2v1h-2zM182 173h2v1h-2zM186 173h2v1h-2zM190 173h2v1h-2zM194 173h2v1h-2zM198 173h2v1h-2zM202 173h2v1h-2zM206 173h2v1h-2zM210 173h2v1h-2zM214 173h2v1h-2zM218 173h2v1h-2zM222 173h2v1h-2zM226 173h2v1h-2zM230 173h2v1h-2zM234 173h2v1h-2zM238 173h2v1h-2zM242 173h2v1h-2zM246 173h2v1h-2zM250 173h2v1h-2zM254 173h1v1h-1zM254 173h2v1h-2zM258 173h2v1h-2zM262 173h2v1h-2zM266 173h2v1h-2zM270 173h2v1h-2zM274 173h2v1h-2zM278 173h2v1h-2zM282 173h2v1h-2zM286 173h2v1h-2zM290 173h2v1h-2zM294 173h2v1h-2zM298 173h2v1h-2zM302 173h2v1h-2zM306 173h2v1h-2zM310 173h2v1h-2zM314 173h2v1h-2zM318 173h2v1h-2zM322 173h2v1h-2zM326 173h2v1h-2zM330 173h2v1h-2zM334 173h2v1h-2zM338 173h2v1h-2zM342 173h2v1h-2zM355 173h1v1h-1zM359 173h1v1h-1zM362 173h2v1h-2zM366 173h2v1h-2zM369 173h3v1h-3zM374 173h2v1h-2zM378 173h2v1h-2zM382 173h2v1h-2zM386 173h2v1h-2zM390 173h2v1h-2zM394 173h2v1h-2zM398 173h2v1h-2zM403 173h1v1h-1zM410 173h1v1h-1zM419 173h1v1h-1zM422 173h2v1h-2zM426 173h2v1h-2zM430 173h2v1h-2zM434 173h2v1h-2zM438 173h2v1h-2zM442 173h2v1h-2zM446 173h2v1h-2zM450 173h2v1h-2zM454 173h2v1h-2zM458 173h2v1h-2zM462 173h2v1h-2zM466 173h2v1h-2zM470 173h2v1h-2zM474 173h2v1h-2zM478 173h2v1h-2zM482 173h2v1h-2zM483 173h1v1h-1zM486 173h2v1h-2zM490 173h2v1h-2zM494 173h2v1h-2zM498 173h2v1h-2zM502 173h2v1h-2zM506 173h2v1h-2zM510 173h2v1h-2zM514 173h2v1h-2zM518 173h2v1h-2zM522 173h2v1h-2zM526 173h2v1h-2zM530 173h2v1h-2zM534 173h2v1h-2zM538 173h2v1h-2zM542 173h2v1h-2zM546 173h2v1h-2zM550 173h2v1h-2zM554 173h2v1h-2zM558 173h2v1h-2zM562 173h2v1h-2zM566 173h2v1h-2zM570 173h2v1h-2zM574 173h2v1h-2zM578 173h2v1h-2zM582 173h2v1h-2zM586 173h2v1h-2zM590 173h2v1h-2zM594 173h2v1h-2zM598 173h1v1h-1zM598 173h2v1h-2zM602 173h2v1h-2zM606 173h2v1h-2zM610 173h2v1h-2zM614 173h2v1h-2zM618 173h2v1h-2zM622 173h2v1h-2zM626 173h2v1h-2zM630 173h2v1h-2zM634 173h2v1h-2zM638 173h2v1h-2zM642 173h2v1h-2zM646 173h2v1h-2zM650 173h2v1h-2zM654 173h2v1h-2zM658 173h2v1h-2zM662 173h2v1h-2zM666 173h2v1h-2zM670 173h2v1h-2zM674 173h2v1h-2zM678 173h2v1h-2zM682 173h2v1h-2zM686 173h2v1h-2zM690 173h2v1h-2zM694 173h2v1h-2zM698 173h2v1h-2zM702 173h2v1h-2zM706 173h2v1h-2zM710 173h2v1h-2zM713 173h3v1h-3zM718 173h2v1h-2zM722 173h2v1h-2zM726 173h2v1h-2zM730 173h2v1h-2zM734 173h2v1h-2zM738 173h2v1h-2zM742 173h2v1h-2zM746 173h2v1h-2zM750 173h2v1h-2zM754 173h2v1h-2zM758 173h2v1h-2zM762 173h2v1h-2zM766 173h2v1h-2zM770 173h2v1h-2zM774 173h2v1h-2zM778 173h2v1h-2zM782 173h2v1h-2zM786 173h2v1h-2zM790 173h2v1h-2zM794 173h2v1h-2zM798 173h2v1h-2zM802 173h2v1h-2zM806 173h2v1h-2zM810 173h2v1h-2zM814 173h2v1h-2zM818 173h2v1h-2zM822 173h2v1h-2zM826 173h2v1h-2zM827 173h1v1h-1zM830 173h2v1h-2zM834 173h2v1h-2zM838 173h2v1h-2zM842 173h2v1h-2zM846 173h2v1h-2zM850 173h2v1h-2zM854 173h2v1h-2zM858 173h2v1h-2zM862 173h2v1h-2zM866 173h2v1h-2zM870 173h2v1h-2zM874 173h2v1h-2zM878 173h2v1h-2zM882 173h2v1h-2zM886 173h2v1h-2zM890 173h2v1h-2zM894 173h2v1h-2zM898 173h2v1h-2zM902 173h2v1h-2zM906 173h2v1h-2zM910 173h2v1h-2zM914 173h2v1h-2zM918 173h2v1h-2zM922 173h2v1h-2zM926 173h2v1h-2zM930 173h2v1h-2zM934 173h2v1h-2zM938 173h2v1h-2zM139 174h1v1h-1zM254 174h1v1h-1zM369 174h1v1h-1zM483 174h1v1h-1zM598 174h1v1h-1zM713 174h1v1h-1zM827 174h1v1h-1zM139 177h1v1h-1zM254 177h1v1h-1zM369 177h1v1h-1zM483 177h1v1h-1zM598 177h1v1h-1zM713 177h1v1h-1zM827 177h1v1h-1zM139 178h1v1h-1zM254 178h1v1h-1zM369 178h1v1h-1zM483 178h1v1h-1zM598 178h1v1h-1zM713 178h1v1h-1zM827 178h1v1h-1zM139 181h1v1h-1zM254 181h1v1h-1zM369 181h1v1h-1zM483 181h1v1h-1zM598 181h1v1h-1zM713 181h1v1h-1zM827 181h1v1h-1zM139 182h1v1h-1zM254 182h1v1h-1zM369 182h1v1h-1zM483 182h1v1h-1zM598 182h1v1h-1zM713 182h1v1h-1zM827 182h1v1h-1zM139 185h1v1h-1zM254 185h1v1h-1zM369 185h1v1h-1zM483 185h1v1h-1zM598 185h1v1h-1zM713 185h1v1h-1zM827 185h1v1h-1zM139 186h1v1h-1zM254 186h1v1h-1zM369 186h1v1h-1zM483 186h1v1h-1zM598 186h1v1h-1zM713 186h1v1h-1zM827 186h1v1h-1zM139 189h1v1h-1zM254 189h1v1h-1zM369 189h1v1h-1zM483 189h1v1h-1zM598 189h1v1h-1zM713 189h1v1h-1zM827 189h1v1h-1zM139 190h1v1h-1zM254 190h1v1h-1zM369 190h1v1h-1zM483 190h1v1h-1zM598 190h1v1h-1zM713 190h1v1h-1zM827 190h1v1h-1zM139 193h1v1h-1zM254 193h1v1h-1zM369 193h1v1h-1zM483 193h1v1h-1zM598 193h1v1h-1zM713 193h1v1h-1zM827 193h1v1h-1zM139 194h1v1h-1zM254 194h1v1h-1zM369 194h1v1h-1zM483 194h1v1h-1zM598 194h1v1h-1zM713 194h1v1h-1zM827 194h1v1h-1zM139 197h1v1h-1zM254 197h1v1h-1zM369 197h1v1h-1zM483 197h1v1h-1zM598 197h1v1h-1zM713 197h1v1h-1zM827 197h1v1h-1zM139 198h1v1h-1zM254 198h1v1h-1zM369 198h1v1h-1zM483 198h1v1h-1zM598 198h1v1h-1zM713 198h1v1h-1zM827 198h1v1h-1zM139 201h1v1h-1zM254 201h1v1h-1zM369 201h1v1h-1zM483 201h1v1h-1zM598 201h1v1h-1zM713 201h1v1h-1zM827 201h1v1h-1zM139 202h1v1h-1zM254 202h1v1h-1zM369 202h1v1h-1zM483 202h1v1h-1zM598 202h1v1h-1zM713 202h1v1h-1zM827 202h1v1h-1zM139 205h1v1h-1zM254 205h1v1h-1zM369 205h1v1h-1zM483 205h1v1h-1zM598 205h1v1h-1zM713 205h1v1h-1zM827 205h1v1h-1zM139 206h1v1h-1zM254 206h1v1h-1zM369 206h1v1h-1zM483 206h1v1h-1zM598 206h1v1h-1zM713 206h1v1h-1zM827 206h1v1h-1zM139 209h1v1h-1zM254 209h1v1h-1zM369 209h1v1h-1zM483 209h1v1h-1zM598 209h1v1h-1zM713 209h1v1h-1zM827 209h1v1h-1zM139 210h1v1h-1zM254 210h1v1h-1zM369 210h1v1h-1zM483 210h1v1h-1zM598 210h1v1h-1zM713 210h1v1h-1zM827 210h1v1h-1zM139 213h1v1h-1zM254 213h1v1h-1zM369 213h1v1h-1zM483 213h1v1h-1zM598 213h1v1h-1zM713 213h1v1h-1zM827 213h1v1h-1zM139 214h1v1h-1zM254 214h1v1h-1zM369 214h1v1h-1zM483 214h1v1h-1zM598 214h1v1h-1zM713 214h1v1h-1zM827 214h1v1h-1zM83 215h1v1h-1zM86 215h2v1h-2zM90 215h2v1h-2zM94 215h2v1h-2zM98 215h2v1h-2zM102 215h2v1h-2zM106 215h2v1h-2zM110 215h2v1h-2zM114 215h2v1h-2zM118 215h2v1h-2zM122 215h2v1h-2zM126 215h2v1h-2zM130 215h2v1h-2zM134 215h2v1h-2zM138 215h2v1h-2zM142 215h2v1h-2zM146 215h2v1h-2zM150 215h2v1h-2zM154 215h2v1h-2zM158 215h2v1h-2zM162 215h2v1h-2zM166 215h2v1h-2zM170 215h2v1h-2zM174 215h2v1h-2zM178 215h2v1h-2zM182 215h2v1h-2zM186 215h2v1h-2zM190 215h2v1h-2zM194 215h2v1h-2zM198 215h2v1h-2zM202 215h2v1h-2zM206 215h2v1h-2zM210 215h2v1h-2zM214 215h2v1h-2zM218 215h2v1h-2zM222 215h2v1h-2zM226 215h2v1h-2zM230 215h2v1h-2zM234 215h2v1h-2zM238 215h2v1h-2zM242 215h2v1h-2zM246 215h2v1h-2zM250 215h2v1h-2zM254 215h2v1h-2zM258 215h2v1h-2zM262 215h2v1h-2zM266 215h2v1h-2zM270 215h2v1h-2zM274 215h2v1h-2zM278 215h2v1h-2zM282 215h2v1h-2zM286 215h2v1h-2zM290 215h2v1h-2zM294 215h2v1h-2zM298 215h2v1h-2zM302 215h2v1h-2zM306 215h2v1h-2zM310 215h2v1h-2zM314 215h2v1h-2zM318 215h2v1h-2zM322 215h2v1h-2zM326 215h2v1h-2zM330 215h2v1h-2zM334 215h2v1h-2zM338 215h2v1h-2zM343 215h1v1h-1zM355 215h1v1h-1zM367 215h1v1h-1zM370 215h2v1h-2zM374 215h2v1h-2zM378 215h2v1h-2zM382 215h2v1h-2zM386 215h2v1h-2zM391 215h1v1h-1zM398 215h1v1h-1zM403 215h1v1h-1zM410 215h1v1h-1zM422 215h1v1h-1zM426 215h2v1h-2zM430 215h2v1h-2zM434 215h2v1h-2zM438 215h2v1h-2zM442 215h2v1h-2zM446 215h1v1h-1zM451 215h1v1h-1zM454 215h2v1h-2zM458 215h2v1h-2zM462 215h2v1h-2zM466 215h2v1h-2zM470 215h2v1h-2zM474 215h2v1h-2zM478 215h2v1h-2zM482 215h2v1h-2zM486 215h2v1h-2zM490 215h2v1h-2zM494 215h2v1h-2zM498 215h2v1h-2zM502 215h2v1h-2zM506 215h2v1h-2zM510 215h2v1h-2zM514 215h2v1h-2zM518 215h2v1h-2zM522 215h2v1h-2zM526 215h2v1h-2zM530 215h2v1h-2zM534 215h2v1h-2zM538 215h2v1h-2zM542 215h2v1h-2zM546 215h2v1h-2zM550 215h2v1h-2zM554 215h2v1h-2zM558 215h2v1h-2zM562 215h2v1h-2zM566 215h2v1h-2zM570 215h2v1h-2zM574 215h2v1h-2zM578 215h2v1h-2zM582 215h2v1h-2zM586 215h2v1h-2zM590 215h2v1h-2zM594 215h2v1h-2zM598 215h2v1h-2zM602 215h2v1h-2zM606 215h2v1h-2zM610 215h2v1h-2zM614 215h2v1h-2zM618 215h2v1h-2zM622 215h2v1h-2zM626 215h2v1h-2zM630 215h2v1h-2zM634 215h2v1h-2zM638 215h2v1h-2zM642 215h2v1h-2zM646 215h2v1h-2zM650 215h2v1h-2zM654 215h2v1h-2zM658 215h2v1h-2zM662 215h2v1h-2zM666 215h2v1h-2zM670 215h2v1h-2zM674 215h2v1h-2zM678 215h2v1h-2zM682 215h2v1h-2zM686 215h2v1h-2zM690 215h2v1h-2zM694 215h2v1h-2zM698 215h2v1h-2zM702 215h2v1h-2zM706 215h2v1h-2zM710 215h2v1h-2zM714 215h2v1h-2zM718 215h2v1h-2zM722 215h2v1h-2zM726 215h2v1h-2zM730 215h2v1h-2zM734 215h2v1h-2zM738 215h2v1h-2zM742 215h2v1h-2zM746 215h2v1h-2zM750 215h2v1h-2zM754 215h2v1h-2zM758 215h2v1h-2zM762 215h2v1h-2zM766 215h2v1h-2zM770 215h2v1h-2zM774 215h2v1h-2zM778 215h2v1h-2zM782 215h2v1h-2zM786 215h2v1h-2zM790 215h2v1h-2zM794 215h2v1h-2zM798 215h2v1h-2zM802 215h2v1h-2zM806 215h2v1h-2zM810 215h2v1h-2zM814 215h2v1h-2zM818 215h2v1h-2zM822 215h2v1h-2zM826 215h2v1h-2zM830 215h2v1h-2zM834 215h2v1h-2zM838 215h2v1h-2zM842 215h2v1h-2zM846 215h2v1h-2zM850 215h2v1h-2zM854 215h2v1h-2zM858 215h2v1h-2zM862 215h2v1h-2zM866 215h2v1h-2zM870 215h2v1h-2zM874 215h2v1h-2zM878 215h2v1h-2zM882 215h2v1h-2zM886 215h2v1h-2zM890 215h2v1h-2zM894 215h2v1h-2zM898 215h2v1h-2zM902 215h2v1h-2zM906 215h2v1h-2zM910 215h2v1h-2zM914 215h2v1h-2zM918 215h2v1h-2zM922 215h2v1h-2zM926 215h2v1h-2zM930 215h2v1h-2zM934 215h2v1h-2zM938 215h2v1h-2zM139 217h1v1h-1zM254 217h1v1h-1zM369 217h1v1h-1zM483 217h1v1h-1zM598 217h1v1h-1zM713 217h1v1h-1zM827 217h1v1h-1zM139 218h1v1h-1zM254 218h1v1h-1zM369 218h1v1h-1zM483 218h1v1h-1zM598 218h1v1h-1zM713 218h1v1h-1zM827 218h1v1h-1zM139 221h1v1h-1zM254 221h1v1h-1zM369 221h1v1h-1zM483 221h1v1h-1zM598 221h1v1h-1zM713 221h1v1h-1zM827 221h1v1h-1zM139 222h1v1h-1zM254 222h1v1h-1zM369 222h1v1h-1zM483 222h1v1h-1zM598 222h1v1h-1zM713 222h1v1h-1zM827 222h1v1h-1zM139 225h1v1h-1zM254 225h1v1h-1zM369 225h1v1h-1zM483 225h1v1h-1zM598 225h1v1h-1zM713 225h1v1h-1zM827 225h1v1h-1zM139 226h1v1h-1zM254 226h1v1h-1zM369 226h1v1h-1zM483 226h1v1h-1zM598 226h1v1h-1zM713 226h1v1h-1zM827 226h1v1h-1zM139 229h1v1h-1zM254 229h1v1h-1zM369 229h1v1h-1zM483 229h1v1h-1zM598 229h1v1h-1zM713 229h1v1h-1zM827 229h1v1h-1zM139 230h1v1h-1zM254 230h1v1h-1zM369 230h1v1h-1zM483 230h1v1h-1zM598 230h1v1h-1zM713 230h1v1h-1zM827 230h1v1h-1zM139 233h1v1h-1zM254 233h1v1h-1zM369 233h1v1h-1zM483 233h1v1h-1zM598 233h1v1h-1zM713 233h1v1h-1zM827 233h1v1h-1zM139 234h1v1h-1zM254 234h1v1h-1zM369 234h1v1h-1zM483 234h1v1h-1zM598 234h1v1h-1zM713 234h1v1h-1zM827 234h1v1h-1zM139 237h1v1h-1zM254 237h1v1h-1zM369 237h1v1h-1zM483 237h1v1h-1zM598 237h1v1h-1zM713 237h1v1h-1zM827 237h1v1h-1zM139 238h1v1h-1zM254 238h1v1h-1zM369 238h1v1h-1zM483 238h1v1h-1zM598 238h1v1h-1zM713 238h1v1h-1zM827 238h1v1h-1zM139 241h1v1h-1zM254 241h1v1h-1zM369 241h1v1h-1zM483 241h1v1h-1zM598 241h1v1h-1zM713 241h1v1h-1zM827 241h1v1h-1zM139 242h1v1h-1zM254 242h1v1h-1zM369 242h1v1h-1zM483 242h1v1h-1zM598 242h1v1h-1zM713 242h1v1h-1zM827 242h1v1h-1zM139 245h1v1h-1zM254 245h1v1h-1zM369 245h1v1h-1zM483 245h1v1h-1zM598 245h1v1h-1zM713 245h1v1h-1zM827 245h1v1h-1zM139 246h1v1h-1zM254 246h1v1h-1zM369 246h1v1h-1zM483 246h1v1h-1zM598 246h1v1h-1zM713 246h1v1h-1zM827 246h1v1h-1zM139 249h1v1h-1zM254 249h1v1h-1zM369 249h1v1h-1zM483 249h1v1h-1zM598 249h1v1h-1zM713 249h1v1h-1zM827 249h1v1h-1zM139 250h1v1h-1zM254 250h1v1h-1zM369 250h1v1h-1zM483 250h1v1h-1zM598 250h1v1h-1zM713 250h1v1h-1zM827 250h1v1h-1zM139 253h1v1h-1zM254 253h1v1h-1zM369 253h1v1h-1zM483 253h1v1h-1zM598 253h1v1h-1zM713 253h1v1h-1zM827 253h1v1h-1zM139 254h1v1h-1zM254 254h1v1h-1zM369 254h1v1h-1zM483 254h1v1h-1zM598 254h1v1h-1zM713 254h1v1h-1zM827 254h1v1h-1zM139 257h1v1h-1zM254 257h1v1h-1zM369 257h1v1h-1zM483 257h1v1h-1zM598 257h1v1h-1zM713 257h1v1h-1zM827 257h1v1h-1zM83 258h1v1h-1zM86 258h2v1h-2zM90 258h2v1h-2zM94 258h2v1h-2zM98 258h2v1h-2zM102 258h2v1h-2zM106 258h2v1h-2zM110 258h2v1h-2zM114 258h2v1h-2zM118 258h2v1h-2zM122 258h2v1h-2zM126 258h2v1h-2zM130 258h2v1h-2zM134 258h2v1h-2zM138 258h2v1h-2zM139 258h1v1h-1zM142 258h2v1h-2zM146 258h2v1h-2zM150 258h2v1h-2zM154 258h2v1h-2zM158 258h2v1h-2zM162 258h2v1h-2zM166 258h2v1h-2zM170 258h2v1h-2zM174 258h2v1h-2zM178 258h2v1h-2zM182 258h2v1h-2zM186 258h2v1h-2zM190 258h2v1h-2zM194 258h2v1h-2zM198 258h2v1h-2zM202 258h2v1h-2zM206 258h2v1h-2zM210 258h2v1h-2zM214 258h2v1h-2zM218 258h2v1h-2zM222 258h2v1h-2zM226 258h2v1h-2zM230 258h2v1h-2zM234 258h2v1h-2zM238 258h2v1h-2zM242 258h2v1h-2zM246 258h2v1h-2zM250 258h2v1h-2zM254 258h1v1h-1zM254 258h2v1h-2zM258 258h2v1h-2zM262 258h2v1h-2zM266 258h2v1h-2zM270 258h2v1h-2zM274 258h2v1h-2zM278 258h2v1h-2zM282 258h2v1h-2zM286 258h2v1h-2zM290 258h2v1h-2zM294 258h2v1h-2zM298 258h2v1h-2zM302 258h2v1h-2zM306 258h2v1h-2zM310 258h2v1h-2zM314 258h2v1h-2zM318 258h2v1h-2zM322 258h2v1h-2zM326 258h2v1h-2zM330 258h2v1h-2zM334 258h2v1h-2zM338 258h2v1h-2zM343 258h1v1h-1zM355 258h1v1h-1zM367 258h1v1h-1zM369 258h3v1h-3zM374 258h1v1h-1zM379 258h1v1h-1zM386 258h1v1h-1zM391 258h1v1h-1zM398 258h1v1h-1zM403 258h1v1h-1zM410 258h1v1h-1zM422 258h1v1h-1zM426 258h2v1h-2zM430 258h2v1h-2zM434 258h2v1h-2zM438 258h2v1h-2zM446 258h1v1h-1zM454 258h2v1h-2zM458 258h2v1h-2zM462 258h2v1h-2zM466 258h2v1h-2zM470 258h2v1h-2zM474 258h2v1h-2zM478 258h2v1h-2zM482 258h2v1h-2zM483 258h1v1h-1zM486 258h2v1h-2zM490 258h2v1h-2zM494 258h2v1h-2zM498 258h2v1h-2zM502 258h2v1h-2zM506 258h2v1h-2zM510 258h2v1h-2zM514 258h2v1h-2zM518 258h2v1h-2zM522 258h2v1h-2zM526 258h2v1h-2zM530 258h2v1h-2zM534 258h2v1h-2zM538 258h2v1h-2zM542 258h2v1h-2zM546 258h2v1h-2zM550 258h2v1h-2zM554 258h2v1h-2zM558 258h2v1h-2zM562 258h2v1h-2zM566 258h2v1h-2zM570 258h2v1h-2zM574 258h2v1h-2zM578 258h2v1h-2zM582 258h2v1h-2zM586 258h2v1h-2zM590 258h2v1h-2zM594 258h2v1h-2zM598 258h1v1h-1zM598 258h2v1h-2zM602 258h2v1h-2zM606 258h2v1h-2zM610 258h2v1h-2zM614 258h2v1h-2zM618 258h2v1h-2zM622 258h2v1h-2zM626 258h2v1h-2zM630 258h2v1h-2zM634 258h2v1h-2zM638 258h2v1h-2zM642 258h2v1h-2zM646 258h2v1h-2zM650 258h2v1h-2zM654 258h2v1h-2zM658 258h2v1h-2zM662 258h2v1h-2zM666 258h2v1h-2zM670 258h2v1h-2zM674 258h2v1h-2zM678 258h2v1h-2zM682 258h2v1h-2zM686 258h2v1h-2zM690 258h2v1h-2zM694 258h2v1h-2zM698 258h2v1h-2zM702 258h2v1h-2zM706 258h2v1h-2zM710 258h2v1h-2zM713 258h3v1h-3zM718 258h2v1h-2zM722 258h2v1h-2zM726 258h2v1h-2zM730 258h2v1h-2zM734 258h2v1h-2zM738 258h2v1h-2zM742 258h2v1h-2zM746 258h2v1h-2zM750 258h2v1h-2zM754 258h2v1h-2zM758 258h2v1h-2zM762 258h2v1h-2zM766 258h2v1h-2zM770 258h2v1h-2zM774 258h2v1h-2zM778 258h2v1h-2zM782 258h2v1h-2zM786 258h2v1h-2zM790 258h2v1h-2zM794 258h2v1h-2zM798 258h2v1h-2zM802 258h2v1h-2zM806 258h2v1h-2zM810 258h2v1h-2zM814 258h2v1h-2zM818 258h2v1h-2zM822 258h2v1h-2zM826 258h2v1h-2zM827 258h1v1h-1zM830 258h2v1h-2zM834 258h2v1h-2zM838 258h2v1h-2zM842 258h2v1h-2zM846 258h2v1h-2zM850 258h2v1h-2zM854 258h2v1h-2zM858 258h2v1h-2zM862 258h2v1h-2zM866 258h2v1h-2zM870 258h2v1h-2zM874 258h2v1h-2zM878 258h2v1h-2zM882 258h2v1h-2zM886 258h2v1h-2zM890 258h2v1h-2zM894 258h2v1h-2zM898 258h2v1h-2zM902 258h2v1h-2zM906 258h2v1h-2zM910 258h2v1h-2zM914 258h2v1h-2zM918 258h2v1h-2zM922 258h2v1h-2zM926 258h2v1h-2zM938 258h2v1h-2zM139 261h1v1h-1zM254 261h1v1h-1zM369 261h1v1h-1zM483 261h1v1h-1zM598 261h1v1h-1zM713 261h1v1h-1zM139 262h1v1h-1zM254 262h1v1h-1zM369 262h1v1h-1zM483 262h1v1h-1zM598 262h1v1h-1zM713 262h1v1h-1zM139 265h1v1h-1zM254 265h1v1h-1zM369 265h1v1h-1zM483 265h1v1h-1zM598 265h1v1h-1zM713 265h1v1h-1zM139 266h1v1h-1zM254 266h1v1h-1zM369 266h1v1h-1zM483 266h1v1h-1zM598 266h1v1h-1zM713 266h1v1h-1zM139 269h1v1h-1zM254 269h1v1h-1zM369 269h1v1h-1zM483 269h1v1h-1zM598 269h1v1h-1zM713 269h1v1h-1zM139 270h1v1h-1zM254 270h1v1h-1zM369 270h1v1h-1zM483 270h1v1h-1zM598 270h1v1h-1zM713 270h1v1h-1zM139 273h1v1h-1zM254 273h1v1h-1zM483 273h1v1h-1zM598 273h1v1h-1zM713 273h1v1h-1zM139 274h1v1h-1zM254 274h1v1h-1zM483 274h1v1h-1zM598 274h1v1h-1zM713 274h1v1h-1zM139 277h1v1h-1zM254 277h1v1h-1zM483 277h1v1h-1zM598 277h1v1h-1zM713 277h1v1h-1zM139 278h1v1h-1zM254 278h1v1h-1zM483 278h1v1h-1zM598 278h1v1h-1zM713 278h1v1h-1zM139 281h1v1h-1zM254 281h1v1h-1zM483 281h1v1h-1zM598 281h1v1h-1zM713 281h1v1h-1zM139 282h1v1h-1zM254 282h1v1h-1zM483 282h1v1h-1zM598 282h1v1h-1zM713 282h1v1h-1zM139 285h1v1h-1zM254 285h1v1h-1zM483 285h1v1h-1zM598 285h1v1h-1zM713 285h1v1h-1zM139 286h1v1h-1zM254 286h1v1h-1zM483 286h1v1h-1zM598 286h1v1h-1zM713 286h1v1h-1zM139 289h1v1h-1zM254 289h1v1h-1zM483 289h1v1h-1zM598 289h1v1h-1zM713 289h1v1h-1zM139 290h1v1h-1zM254 290h1v1h-1zM483 290h1v1h-1zM598 290h1v1h-1zM713 290h1v1h-1zM139 293h1v1h-1zM254 293h1v1h-1zM483 293h1v1h-1zM598 293h1v1h-1zM713 293h1v1h-1zM139 294h1v1h-1zM254 294h1v1h-1zM483 294h1v1h-1zM598 294h1v1h-1zM713 294h1v1h-1zM139 297h1v1h-1zM254 297h1v1h-1zM483 297h1v1h-1zM598 297h1v1h-1zM713 297h1v1h-1zM139 298h1v1h-1zM254 298h1v1h-1zM483 298h1v1h-1zM598 298h1v1h-1zM713 298h1v1h-1zM83 301h1v1h-1zM86 301h2v1h-2zM90 301h2v1h-2zM94 301h2v1h-2zM98 301h2v1h-2zM102 301h2v1h-2zM106 301h2v1h-2zM110 301h2v1h-2zM114 301h2v1h-2zM118 301h2v1h-2zM122 301h2v1h-2zM126 301h2v1h-2zM130 301h2v1h-2zM134 301h2v1h-2zM138 301h2v1h-2zM139 301h1v1h-1zM142 301h2v1h-2zM146 301h2v1h-2zM150 301h2v1h-2zM154 301h2v1h-2zM158 301h2v1h-2zM162 301h2v1h-2zM166 301h2v1h-2zM170 301h2v1h-2zM174 301h2v1h-2zM178 301h2v1h-2zM182 301h2v1h-2zM186 301h2v1h-2zM190 301h2v1h-2zM194 301h2v1h-2zM198 301h2v1h-2zM202 301h2v1h-2zM206 301h2v1h-2zM210 301h2v1h-2zM214 301h2v1h-2zM218 301h2v1h-2zM222 301h2v1h-2zM226 301h2v1h-2zM230 301h2v1h-2zM234 301h2v1h-2zM238 301h2v1h-2zM242 301h2v1h-2zM246 301h2v1h-2zM250 301h2v1h-2zM254 301h1v1h-1zM254 301h2v1h-2zM262 301h2v1h-2zM266 301h2v1h-2zM270 301h2v1h-2zM274 301h2v1h-2zM278 301h2v1h-2zM282 301h2v1h-2zM286 301h2v1h-2zM290 301h2v1h-2zM294 301h2v1h-2zM298 301h2v1h-2zM302 301h2v1h-2zM306 301h2v1h-2zM310 301h2v1h-2zM314 301h2v1h-2zM318 301h2v1h-2zM322 301h2v1h-2zM326 301h2v1h-2zM330 301h2v1h-2zM334 301h2v1h-2zM338 301h2v1h-2zM343 301h1v1h-1zM355 301h1v1h-1zM367 301h1v1h-1zM374 301h1v1h-1zM379 301h1v1h-1zM386 301h1v1h-1zM391 301h1v1h-1zM398 301h1v1h-1zM403 301h1v1h-1zM410 301h1v1h-1zM422 301h1v1h-1zM427 301h1v1h-1zM430 301h2v1h-2zM434 301h2v1h-2zM446 301h1v1h-1zM454 301h2v1h-2zM458 301h2v1h-2zM462 301h2v1h-2zM466 301h2v1h-2zM470 301h2v1h-2zM474 301h2v1h-2zM478 301h2v1h-2zM482 301h2v1h-2zM483 301h1v1h-1zM486 301h2v1h-2zM490 301h2v1h-2zM494 301h2v1h-2zM498 301h2v1h-2zM502 301h2v1h-2zM506 301h2v1h-2zM510 301h2v1h-2zM514 301h2v1h-2zM518 301h2v1h-2zM522 301h2v1h-2zM526 301h2v1h-2zM530 301h2v1h-2zM534 301h2v1h-2zM538 301h2v1h-2zM542 301h2v1h-2zM546 301h2v1h-2zM550 301h2v1h-2zM554 301h2v1h-2zM558 301h2v1h-2zM562 301h2v1h-2zM566 301h2v1h-2zM570 301h2v1h-2zM574 301h2v1h-2zM578 301h2v1h-2zM582 301h2v1h-2zM586 301h2v1h-2zM590 301h2v1h-2zM594 301h2v1h-2zM598 301h1v1h-1zM598 301h2v1h-2zM602 301h2v1h-2zM606 301h2v1h-2zM610 301h2v1h-2zM614 301h2v1h-2zM618 301h2v1h-2zM622 301h2v1h-2zM626 301h2v1h-2zM630 301h2v1h-2zM634 301h2v1h-2zM638 301h2v1h-2zM642 301h2v1h-2zM646 301h2v1h-2zM650 301h2v1h-2zM654 301h2v1h-2zM658 301h2v1h-2zM662 301h2v1h-2zM666 301h2v1h-2zM670 301h2v1h-2zM674 301h2v1h-2zM678 301h2v1h-2zM683 301h1v1h-1zM686 301h2v1h-2zM690 301h2v1h-2zM695 301h1v1h-1zM698 301h2v1h-2zM702 301h2v1h-2zM706 301h2v1h-2zM710 301h2v1h-2zM713 301h3v1h-3zM718 301h2v1h-2zM722 301h2v1h-2zM726 301h2v1h-2zM730 301h1v1h-1zM734 301h2v1h-2zM738 301h2v1h-2zM742 301h2v1h-2zM747 301h1v1h-1zM750 301h2v1h-2zM754 301h2v1h-2zM758 301h2v1h-2zM766 301h1v1h-1zM770 301h2v1h-2zM774 301h2v1h-2zM778 301h1v1h-1zM782 301h2v1h-2zM786 301h2v1h-2zM790 301h2v1h-2zM794 301h2v1h-2zM802 301h2v1h-2zM806 301h2v1h-2zM810 301h2v1h-2zM814 301h2v1h-2zM818 301h1v1h-1zM831 301h1v1h-1zM834 301h2v1h-2zM838 301h2v1h-2zM842 301h2v1h-2zM846 301h2v1h-2zM850 301h2v1h-2zM859 301h1v1h-1zM871 301h1v1h-1zM879 301h1v1h-1zM882 301h2v1h-2zM886 301h2v1h-2zM890 301h2v1h-2zM894 301h2v1h-2zM898 301h2v1h-2zM902 301h2v1h-2zM906 301h2v1h-2zM910 301h2v1h-2zM914 301h1v1h-1zM919 301h1v1h-1zM926 301h1v1h-1zM938 301h1v1h-1zM139 302h1v1h-1zM254 302h1v1h-1zM483 302h1v1h-1zM598 302h1v1h-1zM713 302h1v1h-1zM139 305h1v1h-1zM254 305h1v1h-1zM483 305h1v1h-1zM598 305h1v1h-1zM713 305h1v1h-1zM139 306h1v1h-1zM254 306h1v1h-1zM483 306h1v1h-1zM598 306h1v1h-1zM713 306h1v1h-1zM139 309h1v1h-1zM254 309h1v1h-1zM483 309h1v1h-1zM598 309h1v1h-1zM713 309h1v1h-1zM139 310h1v1h-1zM254 310h1v1h-1zM483 310h1v1h-1zM598 310h1v1h-1zM713 310h1v1h-1zM139 313h1v1h-1zM254 313h1v1h-1zM483 313h1v1h-1zM598 313h1v1h-1zM713 313h1v1h-1zM139 314h1v1h-1zM254 314h1v1h-1zM483 314h1v1h-1zM598 314h1v1h-1zM713 314h1v1h-1zM139 317h1v1h-1zM254 317h1v1h-1zM483 317h1v1h-1zM598 317h1v1h-1zM713 317h1v1h-1zM139 318h1v1h-1zM254 318h1v1h-1zM483 318h1v1h-1zM598 318h1v1h-1zM713 318h1v1h-1zM139 321h1v1h-1zM254 321h1v1h-1zM483 321h1v1h-1zM598 321h1v1h-1zM713 321h1v1h-1zM139 322h1v1h-1zM254 322h1v1h-1zM483 322h1v1h-1zM598 322h1v1h-1zM713 322h1v1h-1zM139 325h1v1h-1zM254 325h1v1h-1zM483 325h1v1h-1zM598 325h1v1h-1zM713 325h1v1h-1zM139 326h1v1h-1zM254 326h1v1h-1zM483 326h1v1h-1zM598 326h1v1h-1zM713 326h1v1h-1zM139 329h1v1h-1zM254 329h1v1h-1zM483 329h1v1h-1zM598 329h1v1h-1zM713 329h1v1h-1zM139 330h1v1h-1zM254 330h1v1h-1zM483 330h1v1h-1zM598 330h1v1h-1zM713 330h1v1h-1zM139 333h1v1h-1zM254 333h1v1h-1zM483 333h1v1h-1zM598 333h1v1h-1zM713 333h1v1h-1zM139 334h1v1h-1zM254 334h1v1h-1zM483 334h1v1h-1zM598 334h1v1h-1zM713 334h1v1h-1zM139 337h1v1h-1zM254 337h1v1h-1zM483 337h1v1h-1zM598 337h1v1h-1zM139 338h1v1h-1zM254 338h1v1h-1zM483 338h1v1h-1zM598 338h1v1h-1zM139 341h1v1h-1zM254 341h1v1h-1zM483 341h1v1h-1zM598 341h1v1h-1zM139 342h1v1h-1zM254 342h1v1h-1zM483 342h1v1h-1zM598 342h1v1h-1zM83 343h1v1h-1zM86 343h2v1h-2zM90 343h2v1h-2zM94 343h2v1h-2zM98 343h2v1h-2zM102 343h2v1h-2zM106 343h2v1h-2zM110 343h2v1h-2zM114 343h2v1h-2zM118 343h2v1h-2zM122 343h2v1h-2zM126 343h2v1h-2zM130 343h2v1h-2zM134 343h2v1h-2zM138 343h2v1h-2zM142 343h2v1h-2zM146 343h2v1h-2zM150 343h2v1h-2zM154 343h2v1h-2zM158 343h2v1h-2zM162 343h2v1h-2zM166 343h2v1h-2zM170 343h2v1h-2zM174 343h2v1h-2zM178 343h2v1h-2zM182 343h2v1h-2zM186 343h2v1h-2zM190 343h2v1h-2zM194 343h2v1h-2zM198 343h2v1h-2zM202 343h2v1h-2zM206 343h2v1h-2zM210 343h2v1h-2zM214 343h2v1h-2zM218 343h2v1h-2zM222 343h2v1h-2zM226 343h2v1h-2zM230 343h2v1h-2zM234 343h2v1h-2zM238 343h2v1h-2zM242 343h2v1h-2zM246 343h2v1h-2zM250 343h2v1h-2zM254 343h2v1h-2zM262 343h1v1h-1zM266 343h2v1h-2zM270 343h2v1h-2zM274 343h2v1h-2zM278 343h2v1h-2zM282 343h2v1h-2zM286 343h2v1h-2zM290 343h2v1h-2zM294 343h2v1h-2zM298 343h2v1h-2zM302 343h2v1h-2zM306 343h2v1h-2zM310 343h2v1h-2zM314 343h2v1h-2zM318 343h2v1h-2zM322 343h2v1h-2zM326 343h2v1h-2zM330 343h2v1h-2zM334 343h2v1h-2zM343 343h1v1h-1zM355 343h1v1h-1zM367 343h1v1h-1zM374 343h1v1h-1zM379 343h1v1h-1zM386 343h1v1h-1zM391 343h1v1h-1zM398 343h1v1h-1zM403 343h1v1h-1zM410 343h1v1h-1zM422 343h1v1h-1zM430 343h2v1h-2zM434 343h1v1h-1zM446 343h1v1h-1zM454 343h2v1h-2zM458 343h2v1h-2zM462 343h2v1h-2zM466 343h2v1h-2zM470 343h2v1h-2zM474 343h2v1h-2zM478 343h2v1h-2zM482 343h2v1h-2zM486 343h2v1h-2zM490 343h2v1h-2zM494 343h2v1h-2zM498 343h2v1h-2zM502 343h2v1h-2zM506 343h2v1h-2zM510 343h2v1h-2zM514 343h2v1h-2zM518 343h2v1h-2zM522 343h2v1h-2zM526 343h2v1h-2zM530 343h2v1h-2zM534 343h2v1h-2zM538 343h2v1h-2zM542 343h2v1h-2zM546 343h2v1h-2zM550 343h2v1h-2zM554 343h2v1h-2zM558 343h2v1h-2zM562 343h2v1h-2zM566 343h2v1h-2zM570 343h2v1h-2zM574 343h2v1h-2zM578 343h2v1h-2zM582 343h2v1h-2zM586 343h2v1h-2zM590 343h2v1h-2zM594 343h2v1h-2zM598 343h2v1h-2zM602 343h2v1h-2zM606 343h2v1h-2zM610 343h2v1h-2zM614 343h2v1h-2zM618 343h2v1h-2zM622 343h2v1h-2zM626 343h2v1h-2zM630 343h2v1h-2zM634 343h2v1h-2zM638 343h2v1h-2zM642 343h2v1h-2zM646 343h2v1h-2zM650 343h2v1h-2zM654 343h2v1h-2zM658 343h2v1h-2zM662 343h2v1h-2zM666 343h2v1h-2zM670 343h2v1h-2zM674 343h2v1h-2zM686 343h2v1h-2zM698 343h2v1h-2zM702 343h2v1h-2zM711 343h1v1h-1zM714 343h2v1h-2zM718 343h1v1h-1zM723 343h1v1h-1zM730 343h1v1h-1zM735 343h1v1h-1zM738 343h2v1h-2zM742 343h1v1h-1zM747 343h1v1h-1zM754 343h1v1h-1zM766 343h1v1h-1zM771 343h1v1h-1zM774 343h2v1h-2zM778 343h1v1h-1zM790 343h1v1h-1zM795 343h1v1h-1zM802 343h2v1h-2zM806 343h1v1h-1zM810 343h2v1h-2zM847 343h1v1h-1zM859 343h1v1h-1zM871 343h1v1h-1zM883 343h1v1h-1zM890 343h1v1h-1zM895 343h1v1h-1zM898 343h2v1h-2zM902 343h2v1h-2zM907 343h1v1h-1zM914 343h1v1h-1zM919 343h1v1h-1zM926 343h1v1h-1zM938 343h1v1h-1zM139 345h1v1h-1zM254 345h1v1h-1zM483 345h1v1h-1zM598 345h1v1h-1zM139 346h1v1h-1zM254 346h1v1h-1zM483 346h1v1h-1zM598 346h1v1h-1zM139 349h1v1h-1zM254 349h1v1h-1zM483 349h1v1h-1zM598 349h1v1h-1zM139 350h1v1h-1zM254 350h1v1h-1zM483 350h1v1h-1zM598 350h1v1h-1zM139 353h1v1h-1zM254 353h1v1h-1zM483 353h1v1h-1zM598 353h1v1h-1zM139 354h1v1h-1zM254 354h1v1h-1zM483 354h1v1h-1zM598 354h1v1h-1zM139 357h1v1h-1zM254 357h1v1h-1zM483 357h1v1h-1zM598 357h1v1h-1zM139 358h1v1h-1zM254 358h1v1h-1zM483 358h1v1h-1zM598 358h1v1h-1zM139 361h1v1h-1zM254 361h1v1h-1zM483 361h1v1h-1zM598 361h1v1h-1zM139 362h1v1h-1zM254 362h1v1h-1zM483 362h1v1h-1zM598 362h1v1h-1zM139 365h1v1h-1zM254 365h1v1h-1zM483 365h1v1h-1zM598 365h1v1h-1zM139 366h1v1h-1zM254 366h1v1h-1zM483 366h1v1h-1zM598 366h1v1h-1zM139 369h1v1h-1zM254 369h1v1h-1zM483 369h1v1h-1zM598 369h1v1h-1zM139 370h1v1h-1zM254 370h1v1h-1zM483 370h1v1h-1zM598 370h1v1h-1zM139 373h1v1h-1zM483 373h1v1h-1zM598 373h1v1h-1zM139 374h1v1h-1zM483 374h1v1h-1zM598 374h1v1h-1zM139 377h1v1h-1zM483 377h1v1h-1zM598 377h1v1h-1zM139 378h1v1h-1zM483 378h1v1h-1zM598 378h1v1h-1zM139 381h1v1h-1zM483 381h1v1h-1zM598 381h1v1h-1zM139 382h1v1h-1zM483 382h1v1h-1zM598 382h1v1h-1zM262 385h1v1h-1zM343 385h1v1h-1zM355 385h1v1h-1zM367 385h1v1h-1zM374 385h1v1h-1zM379 385h1v1h-1zM386 385h1v1h-1zM391 385h1v1h-1zM398 385h1v1h-1zM403 385h1v1h-1zM410 385h1v1h-1zM422 385h1v1h-1zM434 385h1v1h-1zM446 385h1v1h-1z" fill="#a0a0a0"/>
<path d="M350 88h2v1h-2zM354 88h1v1h-1zM346 130h2v1h-2zM350 130h2v1h-2zM354 130h1v1h-1zM346 173h2v1h-2zM350 173h2v1h-2zM354 173h1v1h-1zM358 173h1v1h-1zM402 173h1v1h-1zM406 173h2v1h-2zM411 173h1v1h-1zM414 173h2v1h-2zM418 173h1v1h-1zM342 215h1v1h-1zM346 215h2v1h-2zM350 215h2v1h-2zM354 215h1v1h-1zM358 215h2v1h-2zM362 215h2v1h-2zM366 215h1v1h-1zM390 215h1v1h-1zM394 215h2v1h-2zM399 215h1v1h-1zM402 215h1v1h-1zM406 215h2v1h-2zM411 215h1v1h-1zM414 215h2v1h-2zM418 215h2v1h-2zM423 215h1v1h-1zM447 215h1v1h-1zM450 215h1v1h-1zM342 258h1v1h-1zM346 258h2v1h-2zM350 258h2v1h-2zM354 258h1v1h-1zM358 258h2v1h-2zM362 258h2v1h-2zM366 258h1v1h-1zM375 258h1v1h-1zM378 258h1v1h-1zM382 258h2v1h-2zM387 258h1v1h-1zM390 258h1v1h-1zM394 258h2v1h-2zM399 258h1v1h-1zM402 258h1v1h-1zM406 258h2v1h-2zM411 258h1v1h-1zM414 258h2v1h-2zM418 258h2v1h-2zM423 258h1v1h-1zM442 258h2v1h-2zM447 258h1v1h-1zM450 258h2v1h-2zM369 273h1v1h-1zM369 274h1v1h-1zM369 277h1v1h-1zM369 278h1v1h-1zM369 281h1v1h-1zM369 282h1v1h-1zM369 285h1v1h-1zM369 286h1v1h-1zM369 289h1v1h-1zM369 290h1v1h-1zM369 293h1v1h-1zM369 294h1v1h-1zM369 297h1v1h-1zM369 298h1v1h-1zM258 301h2v1h-2zM342 301h1v1h-1zM346 301h2v1h-2zM350 301h2v1h-2zM354 301h1v1h-1zM358 301h2v1h-2zM362 301h2v1h-2zM366 301h1v1h-1zM369 301h3v1h-3zM375 301h1v1h-1zM378 301h1v1h-1zM382 301h2v1h-2zM387 301h1v1h-1zM390 301h1v1h-1zM394 301h2v1h-2zM399 301h1v1h-1zM402 301h1v1h-1zM406 301h2v1h-2zM411 301h1v1h-1zM414 301h2v1h-2zM418 301h2v1h-2zM423 301h1v1h-1zM426 301h1v1h-1zM438 301h2v1h-2zM442 301h2v1h-2zM447 301h1v1h-1zM450 301h2v1h-2zM369 302h1v1h-1zM369 305h1v1h-1zM369 306h1v1h-1zM369 309h1v1h-1zM369 310h1v1h-1zM369 313h1v1h-1zM369 314h1v1h-1zM369 317h1v1h-1zM369 318h1v1h-1zM369 321h1v1h-1zM369 322h1v1h-1zM369 325h1v1h-1zM369 326h1v1h-1zM369 329h1v1h-1zM369 330h1v1h-1zM369 333h1v1h-1zM369 334h1v1h-1zM369 337h1v1h-1zM369 338h1v1h-1zM369 341h1v1h-1zM369 342h1v1h-1zM258 343h2v1h-2zM263 343h1v1h-1zM338 343h2v1h-2zM342 343h1v1h-1zM346 343h2v1h-2zM350 343h2v1h-2zM354 343h1v1h-1zM358 343h2v1h-2zM362 343h2v1h-2zM366 343h1v1h-1zM370 343h2v1h-2zM375 343h1v1h-1zM378 343h1v1h-1zM382 343h2v1h-2zM387 343h1v1h-1zM390 343h1v1h-1zM394 343h2v1h-2zM399 343h1v1h-1zM402 343h1v1h-1zM406 343h2v1h-2zM411 343h1v1h-1zM414 343h2v1h-2zM418 343h2v1h-2zM423 343h1v1h-1zM426 343h2v1h-2zM435 343h1v1h-1zM438 343h2v1h-2zM442 343h2v1h-2zM447 343h1v1h-1zM450 343h2v1h-2zM369 345h1v1h-1zM369 346h1v1h-1zM369 349h1v1h-1zM369 350h1v1h-1zM369 353h1v1h-1zM369 354h1v1h-1zM369 357h1v1h-1zM369 358h1v1h-1zM369 361h1v1h-1zM369 362h1v1h-1zM369 365h1v1h-1zM369 366h1v1h-1zM369 369h1v1h-1zM369 370h1v1h-1zM254 373h1v1h-1zM369 373h1v1h-1zM254 374h1v1h-1zM369 374h1v1h-1zM254 377h1v1h-1zM369 377h1v1h-1zM254 378h1v1h-1zM369 378h1v1h-1zM254 381h1v1h-1zM369 381h1v1h-1zM254 382h1v1h-1zM369 382h1v1h-1zM254 385h2v1h-2zM258 385h2v1h-2zM263 385h1v1h-1zM307 385h1v1h-1zM335 385h1v1h-1zM338 385h2v1h-2zM342 385h1v1h-1zM346 385h2v1h-2zM350 385h2v1h-2zM354 385h1v1h-1zM358 385h2v1h-2zM362 385h2v1h-2zM366 385h1v1h-1zM370 385h2v1h-2zM375 385h1v1h-1zM378 385h1v1h-1zM382 385h2v1h-2zM387 385h1v1h-1zM390 385h1v1h-1zM394 385h2v1h-2zM399 385h1v1h-1zM402 385h1v1h-1zM406 385h2v1h-2zM411 385h1v1h-1zM414 385h2v1h-2zM418 385h2v1h-2zM423 385h1v1h-1zM426 385h2v1h-2zM430 385h2v1h-2zM435 385h1v1h-1zM438 385h2v1h-2zM442 385h2v1h-2zM447 385h1v1h-1zM450 385h2v1h-2zM454 385h1v1h-1z" fill="#ac98ac"/>
<path d="M930 258h2v1h-2zM934 258h2v1h-2zM827 261h1v1h-1zM827 262h1v1h-1zM827 265h1v1h-1zM827 266h1v1h-1zM827 269h1v1h-1zM827 270h1v1h-1zM827 273h1v1h-1zM827 274h1v1h-1zM827 277h1v1h-1zM827 278h1v1h-1zM827 281h1v1h-1zM827 282h1v1h-1zM827 285h1v1h-1zM827 286h1v1h-1zM827 289h1v1h-1zM827 290h1v1h-1zM827 293h1v1h-1zM827 294h1v1h-1zM827 297h1v1h-1zM827 298h1v1h-1zM682 301h1v1h-1zM694 301h1v1h-1zM731 301h1v1h-1zM746 301h1v1h-1zM762 301h2v1h-2zM767 301h1v1h-1zM779 301h1v1h-1zM798 301h2v1h-2zM819 301h1v1h-1zM822 301h2v1h-2zM826 301h2v1h-2zM827 301h1v1h-1zM830 301h1v1h-1zM854 301h2v1h-2zM858 301h1v1h-1zM862 301h2v1h-2zM866 301h2v1h-2zM870 301h1v1h-1zM874 301h2v1h-2zM878 301h1v1h-1zM915 301h1v1h-1zM918 301h1v1h-1zM922 301h2v1h-2zM927 301h1v1h-1zM930 301h2v1h-2zM934 301h2v1h-2zM939 301h1v1h-1zM827 302h1v1h-1zM827 305h1v1h-1zM827 306h1v1h-1zM827 309h1v1h-1zM827 310h1v1h-1zM827 313h1v1h-1zM827 314h1v1h-1zM827 317h1v1h-1zM827 318h1v1h-1zM827 321h1v1h-1zM827 322h1v1h-1zM827 325h1v1h-1zM827 326h1v1h-1zM827 329h1v1h-1zM827 330h1v1h-1zM713 337h1v1h-1zM713 338h1v1h-1zM713 341h1v1h-1zM713 342h1v1h-1zM678 343h2v1h-2zM683 343h1v1h-1zM690 343h2v1h-2zM694 343h1v1h-1zM706 343h2v1h-2zM710 343h1v1h-1zM722 343h1v1h-1zM734 343h1v1h-1zM759 343h1v1h-1zM770 343h1v1h-1zM779 343h1v1h-1zM782 343h2v1h-2zM791 343h1v1h-1zM794 343h1v1h-1zM798 343h2v1h-2zM807 343h1v1h-1zM814 343h2v1h-2zM818 343h2v1h-2zM822 343h2v1h-2zM830 343h2v1h-2zM834 343h2v1h-2zM838 343h2v1h-2zM842 343h2v1h-2zM846 343h1v1h-1zM882 343h1v1h-1zM886 343h2v1h-2zM891 343h1v1h-1zM894 343h1v1h-1zM906 343h1v1h-1zM910 343h2v1h-2zM915 343h1v1h-1z" fill="#a5a5b8"/>
<path d="M827 333h1v1h-1zM827 334h1v1h-1zM827 337h1v1h-1zM827 338h1v1h-1zM827 341h1v1h-1zM827 342h1v1h-1zM682 343h1v1h-1zM695 343h1v1h-1zM719 343h1v1h-1zM726 343h2v1h-2zM731 343h1v1h-1zM743 343h1v1h-1zM746 343h1v1h-1zM750 343h2v1h-2zM755 343h1v1h-1zM758 343h1v1h-1zM762 343h2v1h-2zM767 343h1v1h-1zM786 343h2v1h-2zM826 343h2v1h-2zM850 343h2v1h-2zM854 343h2v1h-2zM858 343h1v1h-1zM862 343h2v1h-2zM866 343h2v1h-2zM870 343h1v1h-1zM874 343h2v1h-2zM878 343h2v1h-2zM918 343h1v1h-1zM922 343h2v1h-2zM927 343h1v1h-1zM930 343h2v1h-2zM934 343h2v1h-2zM939 343h1v1h-1zM713 345h1v1h-1zM827 345h1v1h-1zM713 346h1v1h-1zM827 346h1v1h-1zM713 349h1v1h-1zM827 349h1v1h-1zM713 350h1v1h-1zM827 350h1v1h-1zM713 353h1v1h-1zM827 353h1v1h-1zM713 354h1v1h-1zM827 354h1v1h-1zM713 357h1v1h-1zM827 357h1v1h-1zM713 358h1v1h-1zM827 358h1v1h-1zM713 361h1v1h-1zM827 361h1v1h-1zM713 362h1v1h-1zM827 362h1v1h-1zM713 365h1v1h-1zM827 365h1v1h-1zM713 366h1v1h-1zM827 366h1v1h-1zM713 369h1v1h-1zM827 369h1v1h-1zM713 370h1v1h-1zM827 370h1v1h-1zM713 373h1v1h-1zM827 373h1v1h-1zM713 374h1v1h-1zM827 374h1v1h-1zM713 377h1v1h-1zM827 377h1v1h-1zM713 378h1v1h-1zM827 378h1v1h-1zM713 381h1v1h-1zM827 381h1v1h-1zM713 382h1v1h-1zM827 382h1v1h-1z" fill="#a6a2b6"/>
<path d="M83 385h1v1h-1zM86 385h2v1h-2zM90 385h2v1h-2zM94 385h2v1h-2zM98 385h2v1h-2zM102 385h2v1h-2zM106 385h2v1h-2zM110 385h2v1h-2zM114 385h2v1h-2zM118 385h2v1h-2zM122 385h2v1h-2zM126 385h2v1h-2zM130 385h2v1h-2zM134 385h2v1h-2zM138 385h2v1h-2zM142 385h2v1h-2zM146 385h2v1h-2zM150 385h2v1h-2zM154 385h2v1h-2zM158 385h2v1h-2zM162 385h2v1h-2zM166 385h2v1h-2zM170 385h2v1h-2zM174 385h2v1h-2zM178 385h2v1h-2zM182 385h2v1h-2zM186 385h2v1h-2zM190 385h2v1h-2zM194 385h2v1h-2zM198 385h2v1h-2zM202 385h2v1h-2zM206 385h2v1h-2zM210 385h2v1h-2zM214 385h2v1h-2zM218 385h2v1h-2zM222 385h2v1h-2zM226 385h2v1h-2zM230 385h2v1h-2zM234 385h2v1h-2zM238 385h2v1h-2zM242 385h2v1h-2zM246 385h2v1h-2zM250 385h2v1h-2zM266 385h2v1h-2zM270 385h2v1h-2zM274 385h2v1h-2zM278 385h2v1h-2zM282 385h2v1h-2zM286 385h2v1h-2zM290 385h2v1h-2zM294 385h2v1h-2zM298 385h2v1h-2zM302 385h2v1h-2zM306 385h1v1h-1zM310 385h2v1h-2zM314 385h2v1h-2zM318 385h2v1h-2zM322 385h2v1h-2zM326 385h2v1h-2zM330 385h2v1h-2zM334 385h1v1h-1zM455 385h1v1h-1zM458 385h2v1h-2zM462 385h2v1h-2zM466 385h2v1h-2zM470 385h2v1h-2zM474 385h2v1h-2zM478 385h2v1h-2zM482 385h2v1h-2zM486 385h2v1h-2zM490 385h2v1h-2zM494 385h2v1h-2zM498 385h2v1h-2zM502 385h2v1h-2zM506 385h2v1h-2zM510 385h2v1h-2zM514 385h2v1h-2zM518 385h2v1h-2zM522 385h2v1h-2zM526 385h2v1h-2zM530 385h2v1h-2zM534 385h2v1h-2zM538 385h2v1h-2zM542 385h2v1h-2zM546 385h2v1h-2zM550 385h2v1h-2zM554 385h2v1h-2zM558 385h2v1h-2zM562 385h2v1h-2zM566 385h2v1h-2zM570 385h2v1h-2zM574 385h2v1h-2zM578 385h2v1h-2zM582 385h2v1h-2zM586 385h2v1h-2zM590 385h2v1h-2zM594 385h2v1h-2zM598 385h2v1h-2zM602 385h2v1h-2zM606 385h2v1h-2zM610 385h2v1h-2zM614 385h2v1h-2zM618 385h2v1h-2zM622 385h2v1h-2zM626 385h2v1h-2zM630 385h2v1h-2zM634 385h2v1h-2zM638 385h2v1h-2zM642 385h2v1h-2zM646 385h2v1h-2zM650 385h2v1h-2zM654 385h2v1h-2zM658 385h2v1h-2zM662 385h2v1h-2zM666 385h2v1h-2zM670 385h2v1h-2zM674 385h2v1h-2zM678 385h2v1h-2zM682 385h2v1h-2zM686 385h2v1h-2zM690 385h2v1h-2zM694 385h2v1h-2zM698 385h2v1h-2zM702 385h2v1h-2zM706 385h2v1h-2zM734 385h2v1h-2zM738 385h2v1h-2zM742 385h2v1h-2zM746 385h2v1h-2zM758 385h2v1h-2zM762 385h2v1h-2zM766 385h2v1h-2zM770 385h2v1h-2zM774 385h2v1h-2zM778 385h2v1h-2zM786 385h2v1h-2zM790 385h2v1h-2zM794 385h2v1h-2zM798 385h2v1h-2zM802 385h2v1h-2zM806 385h2v1h-2zM810 385h2v1h-2zM814 385h2v1h-2zM818 385h2v1h-2zM822 385h2v1h-2zM826 385h2v1h-2zM830 385h2v1h-2zM834 385h2v1h-2zM838 385h2v1h-2zM842 385h2v1h-2zM846 385h2v1h-2zM858 385h2v1h-2zM862 385h2v1h-2zM866 385h2v1h-2zM870 385h2v1h-2zM906 385h2v1h-2zM910 385h2v1h-2zM914 385h2v1h-2zM918 385h2v1h-2zM922 385h1v1h-1zM938 385h2v1h-2z" fill="#c8c8c8"/>
<path d="M710 385h2v1h-2zM714 385h2v1h-2zM718 385h2v1h-2zM722 385h2v1h-2zM726 385h2v1h-2zM730 385h2v1h-2zM750 385h2v1h-2zM754 385h2v1h-2zM782 385h2v1h-2zM850 385h2v1h-2zM854 385h2v1h-2zM874 385h2v1h-2zM878 385h2v1h-2zM882 385h2v1h-2zM886 385h2v1h-2zM890 385h2v1h-2zM894 385h2v1h-2zM898 385h2v1h-2zM902 385h2v1h-2zM923 385h1v1h-1zM926 385h2v1h-2zM930 385h2v1h-2zM934 385h2v1h-2z" fill="#aab0b0"/>
</g>
<g stroke="#000" stroke-width="1" fill="none" shape-rendering="crispEdges">
<rect x="82.5" y="45.5" width="860" height="341"/>
<path d="M83 343.5h4M942 343.5h-4M83 301.5h4M942 301.5h-4M83 258.5h4M942 258.5h-4M83 215.5h4M942 215.5h-4M83 173.5h4M942 173.5h-4M83 130.5h4M942 130.5h-4M83 88.5h4M942 88.5h-4M139.5 386v-4M139.5 46v4M254.5 386v-4M254.5 46v4M369.5 386v-4M369.5 46v4M483.5 386v-4M483.5 46v4M598.5 386v-4M598.5 46v4M713.5 386v-4M713.5 46v4M827.5 386v-4M827.5 46v4"/>
</g>
<path d="M551.5 44V386" stroke="#ff0000" stroke-width="1" fill="none" shape-rendering="crispEdges"/>
<g text-anchor="end">
<text x="72.9" y="390.09999999999997">0</text>
<text x="72.9" y="346.9">0.02</text>
<text x="72.9" y="304.9">0.04</text>
<text x="72.9" y="261.9">0.06</text>
<text x="72.9" y="218.9">0.08</text>
<text x="72.9" y="176.9">0.1</text>
<text x="72.9" y="133.9">0.12</text>
<text x="72.9" y="91.9">0.14</text>
<text x="72.9" y="48.9">0.16</text>
</g>
<g text-anchor="middle">
<text x="138.8" y="405">12.12</text>
<text x="253.8" y="405">14.12</text>
<text x="368.8" y="405">16.12</text>
<text x="482.8" y="405">18.12</text>
<text x="597.8" y="405">20.12</text>
<text x="712.8" y="405">22.12</text>
<text x="826.8" y="405">24.12</text>
<text x="941.8" y="405">26.12</text>
<text x="512.5" y="427">Päivä / Date</text>
<text x="512.5" y="26.8" xml:space="preserve" style="white-space:pre">Sulanta / Melt  Alajärvi</text>
<text transform="translate(17,214.8) rotate(-90)">Sulanta / Melt (mm/h)</text>
</g>
<text x="9" y="446">2025-12-19 05:17:10 EET</text>
<g text-anchor="end">
<text x="1032.7" y="57">meps</text>
<text x="1032.7" y="72">meps-med</text>
<text x="1032.7" y="87">max</text>
<text x="1032.7" y="102">95%</text>
<text x="1032.7" y="117">75%</text>
<text x="1032.7" y="132">mediaani</text>
<text x="1032.7" y="147">IL</text>
<text x="1032.7" y="162">Det.</text>
</g>
<g shape-rendering="crispEdges">
<rect x="1040" y="49" width="42" height="8" fill="#c8c8ff"/>
<rect x="1041" y="67" width="41" height="2" fill="#3838e0"/>
<rect x="1041" y="82" width="41" height="2" fill="#ffff5a"/>
<rect x="1041" y="97" width="41" height="2" fill="#aaff55"/>
<rect x="1041" y="112" width="41" height="2" fill="#00ff00"/>
<rect x="1041" y="127" width="41" height="2" fill="#007800"/>
<rect x="1041" y="142" width="41" height="2" fill="#ff0000"/>
<rect x="1041" y="157" width="41" height="2" fill="#000000"/>
</g>
</svg>
</body></html>
